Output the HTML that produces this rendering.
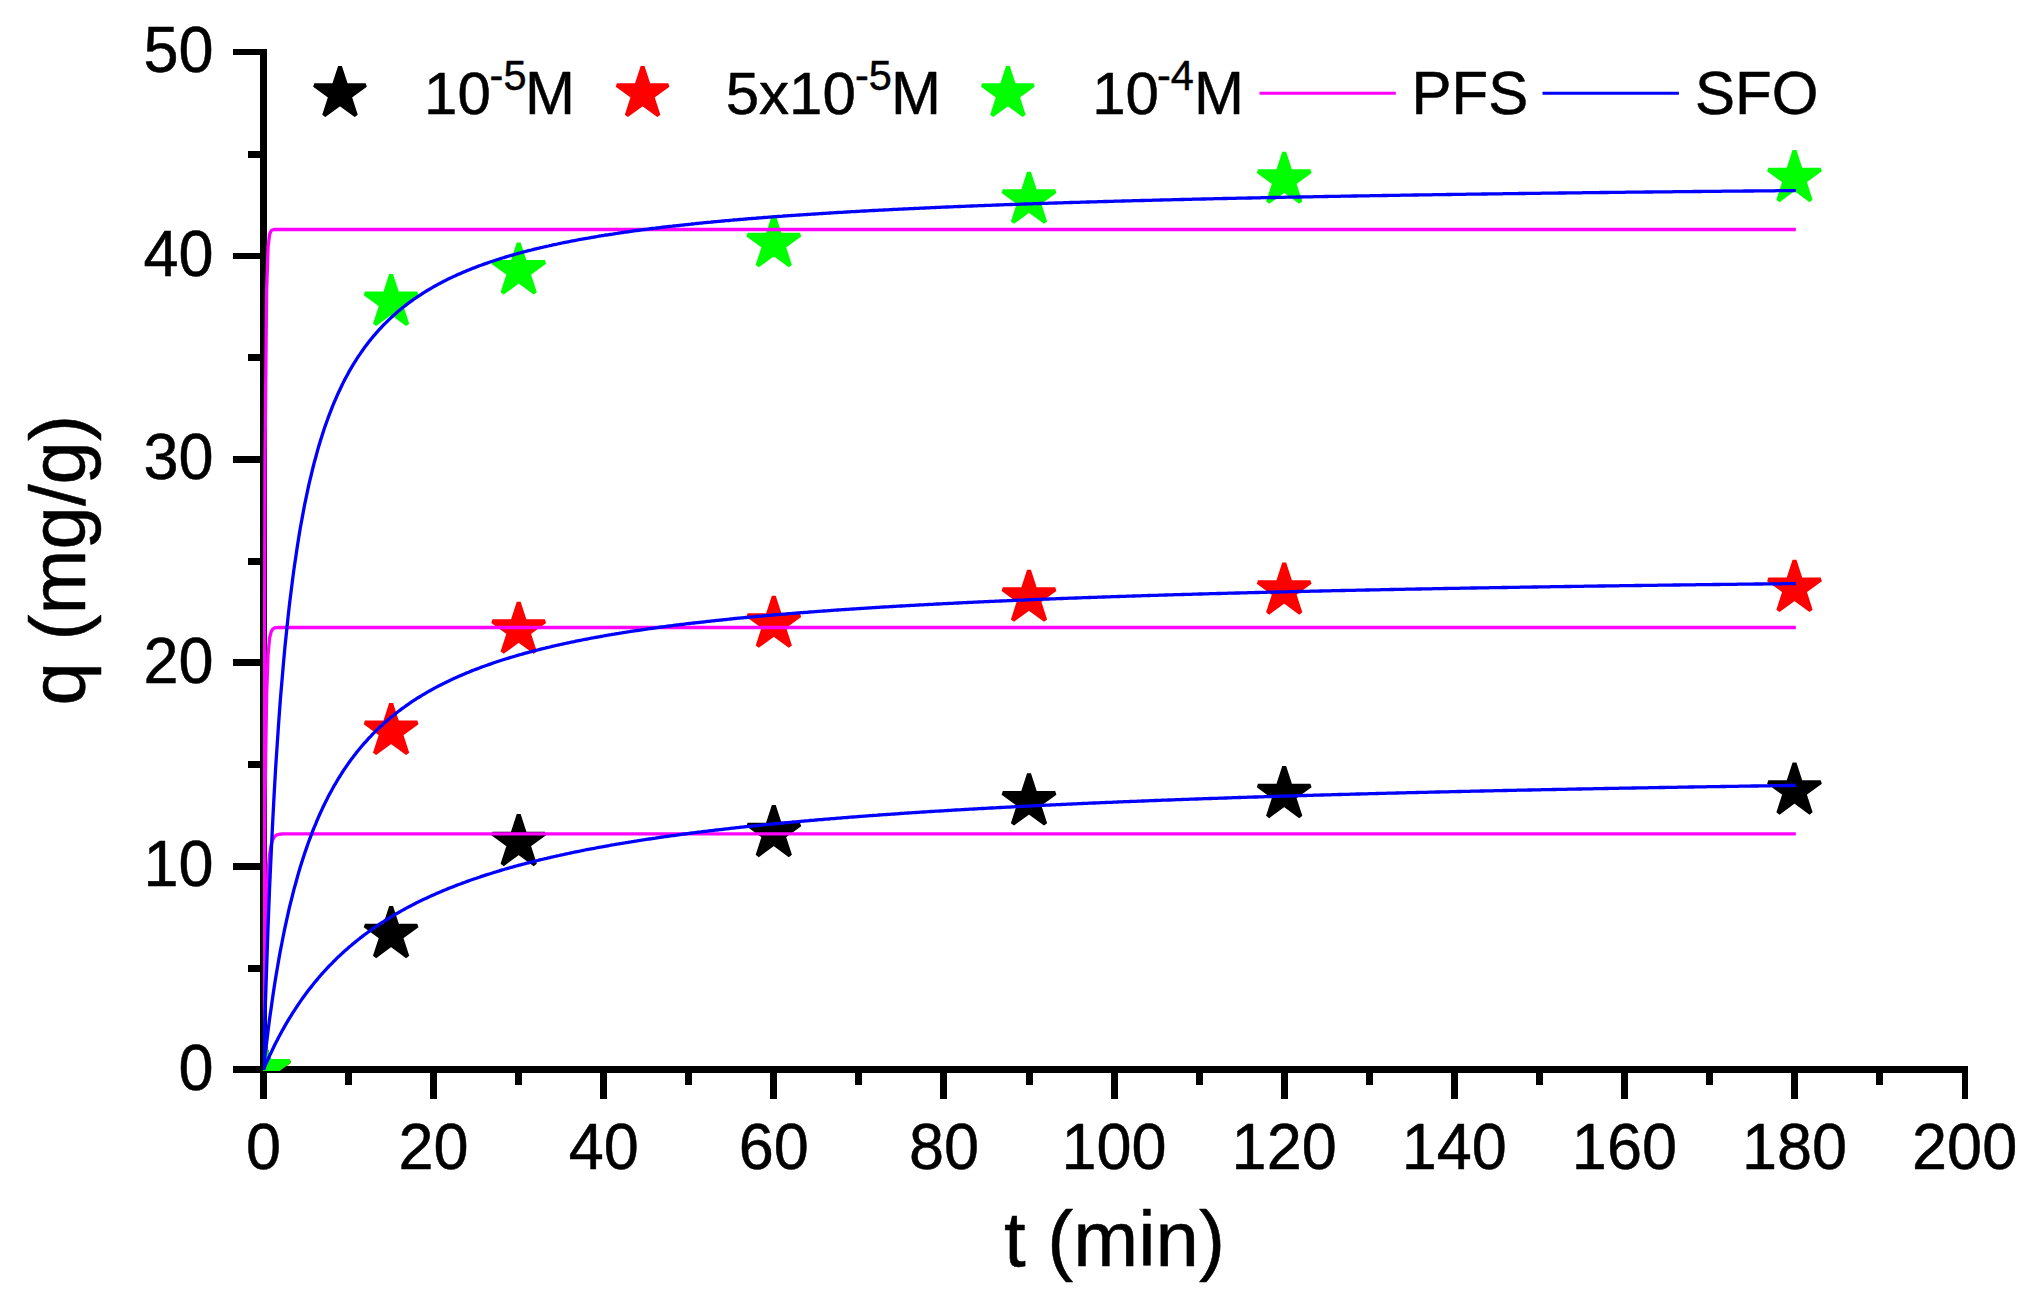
<!DOCTYPE html>
<html lang="en"><head><meta charset="utf-8"><title>q vs t</title>
<style>html,body{margin:0;padding:0;background:#fff}body{width:2027px;height:1315px;overflow:hidden}svg{display:block}text{font-family:"Liberation Sans",Arial,sans-serif;fill:#000;stroke:#000;stroke-width:0.5px;stroke-linejoin:round}</style></head><body>
<svg width="2027" height="1315" viewBox="0 0 2027 1315">
<rect width="2027" height="1315" fill="#fff"/>
<defs><clipPath id="pc"><rect x="263" y="40" width="1720" height="1031"/></clipPath>
<polygon id="st" points="0.00,-27.00 6.06,-8.34 25.68,-8.34 9.81,3.19 15.87,21.84 0.00,10.31 -15.87,21.84 -9.81,3.19 -25.68,-8.34 -6.06,-8.34" stroke-width="4" stroke-linejoin="miter" stroke-miterlimit="2"/>
<g id="sd" transform="scale(1.02)"><use href="#st"/></g>
</defs>
<g fill="#000" shape-rendering="crispEdges">
<rect x="260" y="49" width="7" height="1024"/>
<rect x="233" y="1066" width="1735" height="7"/>
<rect x="248" y="965" width="13" height="7"/>
<rect x="233" y="863" width="28" height="7"/>
<rect x="248" y="761" width="13" height="7"/>
<rect x="233" y="659" width="28" height="7"/>
<rect x="248" y="558" width="13" height="7"/>
<rect x="233" y="456" width="28" height="7"/>
<rect x="248" y="354" width="13" height="7"/>
<rect x="233" y="253" width="28" height="6"/>
<rect x="248" y="151" width="13" height="7"/>
<rect x="233" y="49" width="28" height="6"/>
<rect x="260" y="1070" width="7" height="29"/>
<rect x="345" y="1070" width="7" height="15"/>
<rect x="430" y="1070" width="7" height="29"/>
<rect x="515" y="1070" width="7" height="15"/>
<rect x="600" y="1070" width="7" height="29"/>
<rect x="685" y="1070" width="7" height="15"/>
<rect x="770" y="1070" width="7" height="29"/>
<rect x="855" y="1070" width="7" height="15"/>
<rect x="940" y="1070" width="7" height="29"/>
<rect x="1026" y="1070" width="7" height="15"/>
<rect x="1111" y="1070" width="7" height="29"/>
<rect x="1196" y="1070" width="7" height="15"/>
<rect x="1281" y="1070" width="7" height="29"/>
<rect x="1366" y="1070" width="7" height="15"/>
<rect x="1451" y="1070" width="7" height="29"/>
<rect x="1536" y="1070" width="7" height="15"/>
<rect x="1621" y="1070" width="7" height="29"/>
<rect x="1706" y="1070" width="7" height="15"/>
<rect x="1791" y="1070" width="7" height="29"/>
<rect x="1876" y="1070" width="7" height="15"/>
<rect x="1962" y="1070" width="6" height="29"/>
</g>
<text transform="translate(213.50,1089.50) scale(1,1.027)" font-size="63" text-anchor="end">0</text>
<text transform="translate(213.50,886.00) scale(1,1.027)" font-size="63" text-anchor="end">10</text>
<text transform="translate(213.50,682.50) scale(1,1.027)" font-size="63" text-anchor="end">20</text>
<text transform="translate(213.50,479.00) scale(1,1.027)" font-size="63" text-anchor="end">30</text>
<text transform="translate(213.50,275.50) scale(1,1.027)" font-size="63" text-anchor="end">40</text>
<text transform="translate(213.50,72.00) scale(1,1.027)" font-size="63" text-anchor="end">50</text>
<text transform="translate(263.50,1168.90) scale(1,1.027)" font-size="63" text-anchor="middle">0</text>
<text transform="translate(433.61,1168.90) scale(1,1.027)" font-size="63" text-anchor="middle">20</text>
<text transform="translate(603.72,1168.90) scale(1,1.027)" font-size="63" text-anchor="middle">40</text>
<text transform="translate(773.84,1168.90) scale(1,1.027)" font-size="63" text-anchor="middle">60</text>
<text transform="translate(943.95,1168.90) scale(1,1.027)" font-size="63" text-anchor="middle">80</text>
<text transform="translate(1114.06,1168.90) scale(1,1.027)" font-size="63" text-anchor="middle">100</text>
<text transform="translate(1284.17,1168.90) scale(1,1.027)" font-size="63" text-anchor="middle">120</text>
<text transform="translate(1454.28,1168.90) scale(1,1.027)" font-size="63" text-anchor="middle">140</text>
<text transform="translate(1624.40,1168.90) scale(1,1.027)" font-size="63" text-anchor="middle">160</text>
<text transform="translate(1794.51,1168.90) scale(1,1.027)" font-size="63" text-anchor="middle">180</text>
<text transform="translate(1964.62,1168.90) scale(1,1.027)" font-size="63" text-anchor="middle">200</text>
<text transform="translate(1114.40,1266.20) scale(1,1)" font-size="78" text-anchor="middle">t (min)</text>
<text transform="translate(85,560.3) rotate(-90)" font-size="78" text-anchor="middle">q (mg/g)</text>
<g clip-path="url(#pc)">
<g fill="#000" stroke="#000">
<use href="#sd" x="263.5" y="1069.5"/>
<use href="#sd" x="391.1" y="934.2"/>
<use href="#sd" x="518.7" y="842.2"/>
<use href="#sd" x="773.8" y="833.2"/>
<use href="#sd" x="1029.0" y="801.5"/>
<use href="#sd" x="1284.2" y="794.2"/>
<use href="#sd" x="1794.5" y="790.7"/>
</g>
<g fill="#f00" stroke="#f00">
<use href="#sd" x="263.5" y="1069.5"/>
<use href="#sd" x="391.1" y="731.1"/>
<use href="#sd" x="518.7" y="629.9"/>
<use href="#sd" x="773.8" y="623.8"/>
<use href="#sd" x="1029.0" y="597.8"/>
<use href="#sd" x="1284.2" y="590.7"/>
<use href="#sd" x="1794.5" y="588.0"/>
</g>
<g fill="#0f0" stroke="#0f0">
<use href="#sd" x="263.5" y="1069.5"/>
<use href="#sd" x="391.1" y="302.1"/>
<use href="#sd" x="518.7" y="270.6"/>
<use href="#sd" x="773.8" y="243.3"/>
<use href="#sd" x="1029.0" y="199.9"/>
<use href="#sd" x="1284.2" y="179.8"/>
<use href="#sd" x="1794.5" y="178.2"/>
</g>
<polyline points="263.5,1069.5 265.0,961.6 266.6,903.1 268.1,871.4 269.6,854.2 271.2,844.9 272.7,839.8 274.2,837.1 275.7,835.6 277.3,834.8 278.8,834.4 280.3,834.1 281.9,834.0 283.4,833.9 284.9,833.9 286.5,833.9 288.0,833.9 289.5,833.9 291.1,833.9 292.6,833.8 294.1,833.8 295.7,833.8 297.2,833.8 298.7,833.8 300.2,833.8 301.8,833.8 303.3,833.8 304.8,833.8 306.4,833.8 307.9,833.8 309.4,833.8 311.0,833.8 312.5,833.8 314.0,833.8 315.6,833.8 317.1,833.8 318.6,833.8 320.1,833.8 321.7,833.8 323.2,833.8 324.7,833.8 326.3,833.8 327.8,833.8 329.3,833.8 330.9,833.8 332.4,833.8 333.9,833.8 335.5,833.8 337.0,833.8 338.5,833.8 340.1,833.8 341.6,833.8 343.1,833.8 344.6,833.8 346.2,833.8 347.7,833.8 349.2,833.8 350.8,833.8 352.3,833.8 353.8,833.8 355.4,833.8 356.9,833.8 358.4,833.8 360.0,833.8 361.5,833.8 363.0,833.8 364.5,833.8 366.1,833.8 367.6,833.8 369.1,833.8 370.7,833.8 372.2,833.8 373.7,833.8 375.3,833.8 376.8,833.8 378.3,833.8 379.9,833.8 381.4,833.8 382.9,833.8 384.4,833.8 386.0,833.8 387.5,833.8 389.0,833.8 390.6,833.8 392.1,833.8 393.6,833.8 395.2,833.8 396.7,833.8 398.2,833.8 399.8,833.8 401.3,833.8 402.8,833.8 404.4,833.8 405.9,833.8 407.4,833.8 408.9,833.8 410.5,833.8 412.0,833.8 413.5,833.8 415.1,833.8 416.6,833.8 418.1,833.8 419.7,833.8 421.2,833.8 422.7,833.8 424.3,833.8 425.8,833.8 427.3,833.8 428.8,833.8 430.4,833.8 431.9,833.8 433.4,833.8 435.0,833.8 436.5,833.8 438.0,833.8 439.6,833.8 441.1,833.8 442.6,833.8 444.2,833.8 445.7,833.8 447.2,833.8 448.8,833.8 450.3,833.8 451.8,833.8 453.3,833.8 454.9,833.8 456.4,833.8 457.9,833.8 459.5,833.8 461.0,833.8 462.5,833.8 464.1,833.8 465.6,833.8 467.1,833.8 468.7,833.8 470.2,833.8 471.7,833.8 473.2,833.8 474.8,833.8 476.3,833.8 477.8,833.8 479.4,833.8 480.9,833.8 482.4,833.8 484.0,833.8 485.5,833.8 487.0,833.8 488.6,833.8 490.1,833.8 491.6,833.8 493.2,833.8 494.7,833.8 496.2,833.8 497.7,833.8 499.3,833.8 500.8,833.8 502.3,833.8 503.9,833.8 505.4,833.8 506.9,833.8 508.5,833.8 510.0,833.8 511.5,833.8 513.1,833.8 514.6,833.8 516.1,833.8 517.6,833.8 519.2,833.8 520.7,833.8 522.2,833.8 523.8,833.8 525.3,833.8 526.8,833.8 528.4,833.8 529.9,833.8 531.4,833.8 533.0,833.8 534.5,833.8 536.0,833.8 537.6,833.8 539.1,833.8 540.6,833.8 542.1,833.8 543.7,833.8 545.2,833.8 546.7,833.8 548.3,833.8 549.8,833.8 551.3,833.8 552.9,833.8 554.4,833.8 555.9,833.8 557.5,833.8 559.0,833.8 560.5,833.8 562.0,833.8 563.6,833.8 565.1,833.8 566.6,833.8 568.2,833.8 569.7,833.8 571.2,833.8 572.8,833.8 574.3,833.8 575.8,833.8 577.4,833.8 578.9,833.8 580.4,833.8 581.9,833.8 583.5,833.8 585.0,833.8 586.5,833.8 588.1,833.8 589.6,833.8 591.1,833.8 592.7,833.8 594.2,833.8 595.7,833.8 597.3,833.8 598.8,833.8 600.3,833.8 601.9,833.8 603.4,833.8 604.9,833.8 606.4,833.8 608.0,833.8 609.5,833.8 611.0,833.8 612.6,833.8 614.1,833.8 615.6,833.8 617.2,833.8 618.7,833.8 620.2,833.8 621.8,833.8 623.3,833.8 624.8,833.8 626.3,833.8 627.9,833.8 629.4,833.8 630.9,833.8 632.5,833.8 634.0,833.8 635.5,833.8 637.1,833.8 638.6,833.8 640.1,833.8 641.7,833.8 643.2,833.8 644.7,833.8 646.3,833.8 647.8,833.8 649.3,833.8 650.8,833.8 652.4,833.8 653.9,833.8 655.4,833.8 657.0,833.8 658.5,833.8 660.0,833.8 661.6,833.8 663.1,833.8 664.6,833.8 666.2,833.8 667.7,833.8 669.2,833.8 670.7,833.8 672.3,833.8 673.8,833.8 675.3,833.8 676.9,833.8 678.4,833.8 679.9,833.8 681.5,833.8 683.0,833.8 684.5,833.8 686.1,833.8 687.6,833.8 689.1,833.8 690.7,833.8 692.2,833.8 693.7,833.8 695.2,833.8 696.8,833.8 698.3,833.8 699.8,833.8 701.4,833.8 702.9,833.8 704.4,833.8 706.0,833.8 707.5,833.8 709.0,833.8 710.6,833.8 712.1,833.8 713.6,833.8 715.1,833.8 716.7,833.8 718.2,833.8 719.7,833.8 721.3,833.8 722.8,833.8 724.3,833.8 725.9,833.8 727.4,833.8 728.9,833.8 730.5,833.8 732.0,833.8 733.5,833.8 735.1,833.8 736.6,833.8 738.1,833.8 739.6,833.8 741.2,833.8 742.7,833.8 744.2,833.8 745.8,833.8 747.3,833.8 748.8,833.8 750.4,833.8 751.9,833.8 753.4,833.8 755.0,833.8 756.5,833.8 758.0,833.8 759.5,833.8 761.1,833.8 762.6,833.8 764.1,833.8 765.7,833.8 767.2,833.8 768.7,833.8 770.3,833.8 771.8,833.8 773.3,833.8 774.9,833.8 776.4,833.8 777.9,833.8 779.4,833.8 781.0,833.8 782.5,833.8 784.0,833.8 785.6,833.8 787.1,833.8 788.6,833.8 790.2,833.8 791.7,833.8 793.2,833.8 794.8,833.8 796.3,833.8 797.8,833.8 799.4,833.8 800.9,833.8 802.4,833.8 803.9,833.8 805.5,833.8 807.0,833.8 808.5,833.8 810.1,833.8 811.6,833.8 813.1,833.8 814.7,833.8 816.2,833.8 817.7,833.8 819.3,833.8 820.8,833.8 822.3,833.8 823.8,833.8 825.4,833.8 826.9,833.8 828.4,833.8 830.0,833.8 831.5,833.8 833.0,833.8 834.6,833.8 836.1,833.8 837.6,833.8 839.2,833.8 840.7,833.8 842.2,833.8 843.8,833.8 845.3,833.8 846.8,833.8 848.3,833.8 849.9,833.8 851.4,833.8 852.9,833.8 854.5,833.8 856.0,833.8 857.5,833.8 859.1,833.8 860.6,833.8 862.1,833.8 863.7,833.8 865.2,833.8 866.7,833.8 868.2,833.8 869.8,833.8 871.3,833.8 872.8,833.8 874.4,833.8 875.9,833.8 877.4,833.8 879.0,833.8 880.5,833.8 882.0,833.8 883.6,833.8 885.1,833.8 886.6,833.8 888.2,833.8 889.7,833.8 891.2,833.8 892.7,833.8 894.3,833.8 895.8,833.8 897.3,833.8 898.9,833.8 900.4,833.8 901.9,833.8 903.5,833.8 905.0,833.8 906.5,833.8 908.1,833.8 909.6,833.8 911.1,833.8 912.6,833.8 914.2,833.8 915.7,833.8 917.2,833.8 918.8,833.8 920.3,833.8 921.8,833.8 923.4,833.8 924.9,833.8 926.4,833.8 928.0,833.8 929.5,833.8 931.0,833.8 932.6,833.8 934.1,833.8 935.6,833.8 937.1,833.8 938.7,833.8 940.2,833.8 941.7,833.8 943.3,833.8 944.8,833.8 946.3,833.8 947.9,833.8 949.4,833.8 950.9,833.8 952.5,833.8 954.0,833.8 955.5,833.8 957.0,833.8 958.6,833.8 960.1,833.8 961.6,833.8 963.2,833.8 964.7,833.8 966.2,833.8 967.8,833.8 969.3,833.8 970.8,833.8 972.4,833.8 973.9,833.8 975.4,833.8 976.9,833.8 978.5,833.8 980.0,833.8 981.5,833.8 983.1,833.8 984.6,833.8 986.1,833.8 987.7,833.8 989.2,833.8 990.7,833.8 992.3,833.8 993.8,833.8 995.3,833.8 996.9,833.8 998.4,833.8 999.9,833.8 1001.4,833.8 1003.0,833.8 1004.5,833.8 1006.0,833.8 1007.6,833.8 1009.1,833.8 1010.6,833.8 1012.2,833.8 1013.7,833.8 1015.2,833.8 1016.8,833.8 1018.3,833.8 1019.8,833.8 1021.3,833.8 1022.9,833.8 1024.4,833.8 1025.9,833.8 1027.5,833.8 1029.0,833.8 1030.5,833.8 1032.1,833.8 1033.6,833.8 1035.1,833.8 1036.7,833.8 1038.2,833.8 1039.7,833.8 1041.3,833.8 1042.8,833.8 1044.3,833.8 1045.8,833.8 1047.4,833.8 1048.9,833.8 1050.4,833.8 1052.0,833.8 1053.5,833.8 1055.0,833.8 1056.6,833.8 1058.1,833.8 1059.6,833.8 1061.2,833.8 1062.7,833.8 1064.2,833.8 1065.7,833.8 1067.3,833.8 1068.8,833.8 1070.3,833.8 1071.9,833.8 1073.4,833.8 1074.9,833.8 1076.5,833.8 1078.0,833.8 1079.5,833.8 1081.1,833.8 1082.6,833.8 1084.1,833.8 1085.7,833.8 1087.2,833.8 1088.7,833.8 1090.2,833.8 1091.8,833.8 1093.3,833.8 1094.8,833.8 1096.4,833.8 1097.9,833.8 1099.4,833.8 1101.0,833.8 1102.5,833.8 1104.0,833.8 1105.6,833.8 1107.1,833.8 1108.6,833.8 1110.1,833.8 1111.7,833.8 1113.2,833.8 1114.7,833.8 1116.3,833.8 1117.8,833.8 1119.3,833.8 1120.9,833.8 1122.4,833.8 1123.9,833.8 1125.5,833.8 1127.0,833.8 1128.5,833.8 1130.1,833.8 1131.6,833.8 1133.1,833.8 1134.6,833.8 1136.2,833.8 1137.7,833.8 1139.2,833.8 1140.8,833.8 1142.3,833.8 1143.8,833.8 1145.4,833.8 1146.9,833.8 1148.4,833.8 1150.0,833.8 1151.5,833.8 1153.0,833.8 1154.5,833.8 1156.1,833.8 1157.6,833.8 1159.1,833.8 1160.7,833.8 1162.2,833.8 1163.7,833.8 1165.3,833.8 1166.8,833.8 1168.3,833.8 1169.9,833.8 1171.4,833.8 1172.9,833.8 1174.4,833.8 1176.0,833.8 1177.5,833.8 1179.0,833.8 1180.6,833.8 1182.1,833.8 1183.6,833.8 1185.2,833.8 1186.7,833.8 1188.2,833.8 1189.8,833.8 1191.3,833.8 1192.8,833.8 1194.4,833.8 1195.9,833.8 1197.4,833.8 1198.9,833.8 1200.5,833.8 1202.0,833.8 1203.5,833.8 1205.1,833.8 1206.6,833.8 1208.1,833.8 1209.7,833.8 1211.2,833.8 1212.7,833.8 1214.3,833.8 1215.8,833.8 1217.3,833.8 1218.8,833.8 1220.4,833.8 1221.9,833.8 1223.4,833.8 1225.0,833.8 1226.5,833.8 1228.0,833.8 1229.6,833.8 1231.1,833.8 1232.6,833.8 1234.2,833.8 1235.7,833.8 1237.2,833.8 1238.8,833.8 1240.3,833.8 1241.8,833.8 1243.3,833.8 1244.9,833.8 1246.4,833.8 1247.9,833.8 1249.5,833.8 1251.0,833.8 1252.5,833.8 1254.1,833.8 1255.6,833.8 1257.1,833.8 1258.7,833.8 1260.2,833.8 1261.7,833.8 1263.2,833.8 1264.8,833.8 1266.3,833.8 1267.8,833.8 1269.4,833.8 1270.9,833.8 1272.4,833.8 1274.0,833.8 1275.5,833.8 1277.0,833.8 1278.6,833.8 1280.1,833.8 1281.6,833.8 1283.2,833.8 1284.7,833.8 1286.2,833.8 1287.7,833.8 1289.3,833.8 1290.8,833.8 1292.3,833.8 1293.9,833.8 1295.4,833.8 1296.9,833.8 1298.5,833.8 1300.0,833.8 1301.5,833.8 1303.1,833.8 1304.6,833.8 1306.1,833.8 1307.6,833.8 1309.2,833.8 1310.7,833.8 1312.2,833.8 1313.8,833.8 1315.3,833.8 1316.8,833.8 1318.4,833.8 1319.9,833.8 1321.4,833.8 1323.0,833.8 1324.5,833.8 1326.0,833.8 1327.6,833.8 1329.1,833.8 1330.6,833.8 1332.1,833.8 1333.7,833.8 1335.2,833.8 1336.7,833.8 1338.3,833.8 1339.8,833.8 1341.3,833.8 1342.9,833.8 1344.4,833.8 1345.9,833.8 1347.5,833.8 1349.0,833.8 1350.5,833.8 1352.0,833.8 1353.6,833.8 1355.1,833.8 1356.6,833.8 1358.2,833.8 1359.7,833.8 1361.2,833.8 1362.8,833.8 1364.3,833.8 1365.8,833.8 1367.4,833.8 1368.9,833.8 1370.4,833.8 1371.9,833.8 1373.5,833.8 1375.0,833.8 1376.5,833.8 1378.1,833.8 1379.6,833.8 1381.1,833.8 1382.7,833.8 1384.2,833.8 1385.7,833.8 1387.3,833.8 1388.8,833.8 1390.3,833.8 1391.9,833.8 1393.4,833.8 1394.9,833.8 1396.4,833.8 1398.0,833.8 1399.5,833.8 1401.0,833.8 1402.6,833.8 1404.1,833.8 1405.6,833.8 1407.2,833.8 1408.7,833.8 1410.2,833.8 1411.8,833.8 1413.3,833.8 1414.8,833.8 1416.3,833.8 1417.9,833.8 1419.4,833.8 1420.9,833.8 1422.5,833.8 1424.0,833.8 1425.5,833.8 1427.1,833.8 1428.6,833.8 1430.1,833.8 1431.7,833.8 1433.2,833.8 1434.7,833.8 1436.3,833.8 1437.8,833.8 1439.3,833.8 1440.8,833.8 1442.4,833.8 1443.9,833.8 1445.4,833.8 1447.0,833.8 1448.5,833.8 1450.0,833.8 1451.6,833.8 1453.1,833.8 1454.6,833.8 1456.2,833.8 1457.7,833.8 1459.2,833.8 1460.7,833.8 1462.3,833.8 1463.8,833.8 1465.3,833.8 1466.9,833.8 1468.4,833.8 1469.9,833.8 1471.5,833.8 1473.0,833.8 1474.5,833.8 1476.1,833.8 1477.6,833.8 1479.1,833.8 1480.7,833.8 1482.2,833.8 1483.7,833.8 1485.2,833.8 1486.8,833.8 1488.3,833.8 1489.8,833.8 1491.4,833.8 1492.9,833.8 1494.4,833.8 1496.0,833.8 1497.5,833.8 1499.0,833.8 1500.6,833.8 1502.1,833.8 1503.6,833.8 1505.1,833.8 1506.7,833.8 1508.2,833.8 1509.7,833.8 1511.3,833.8 1512.8,833.8 1514.3,833.8 1515.9,833.8 1517.4,833.8 1518.9,833.8 1520.5,833.8 1522.0,833.8 1523.5,833.8 1525.1,833.8 1526.6,833.8 1528.1,833.8 1529.6,833.8 1531.2,833.8 1532.7,833.8 1534.2,833.8 1535.8,833.8 1537.3,833.8 1538.8,833.8 1540.4,833.8 1541.9,833.8 1543.4,833.8 1545.0,833.8 1546.5,833.8 1548.0,833.8 1549.5,833.8 1551.1,833.8 1552.6,833.8 1554.1,833.8 1555.7,833.8 1557.2,833.8 1558.7,833.8 1560.3,833.8 1561.8,833.8 1563.3,833.8 1564.9,833.8 1566.4,833.8 1567.9,833.8 1569.4,833.8 1571.0,833.8 1572.5,833.8 1574.0,833.8 1575.6,833.8 1577.1,833.8 1578.6,833.8 1580.2,833.8 1581.7,833.8 1583.2,833.8 1584.8,833.8 1586.3,833.8 1587.8,833.8 1589.4,833.8 1590.9,833.8 1592.4,833.8 1593.9,833.8 1595.5,833.8 1597.0,833.8 1598.5,833.8 1600.1,833.8 1601.6,833.8 1603.1,833.8 1604.7,833.8 1606.2,833.8 1607.7,833.8 1609.3,833.8 1610.8,833.8 1612.3,833.8 1613.8,833.8 1615.4,833.8 1616.9,833.8 1618.4,833.8 1620.0,833.8 1621.5,833.8 1623.0,833.8 1624.6,833.8 1626.1,833.8 1627.6,833.8 1629.2,833.8 1630.7,833.8 1632.2,833.8 1633.8,833.8 1635.3,833.8 1636.8,833.8 1638.3,833.8 1639.9,833.8 1641.4,833.8 1642.9,833.8 1644.5,833.8 1646.0,833.8 1647.5,833.8 1649.1,833.8 1650.6,833.8 1652.1,833.8 1653.7,833.8 1655.2,833.8 1656.7,833.8 1658.2,833.8 1659.8,833.8 1661.3,833.8 1662.8,833.8 1664.4,833.8 1665.9,833.8 1667.4,833.8 1669.0,833.8 1670.5,833.8 1672.0,833.8 1673.6,833.8 1675.1,833.8 1676.6,833.8 1678.2,833.8 1679.7,833.8 1681.2,833.8 1682.7,833.8 1684.3,833.8 1685.8,833.8 1687.3,833.8 1688.9,833.8 1690.4,833.8 1691.9,833.8 1693.5,833.8 1695.0,833.8 1696.5,833.8 1698.1,833.8 1699.6,833.8 1701.1,833.8 1702.6,833.8 1704.2,833.8 1705.7,833.8 1707.2,833.8 1708.8,833.8 1710.3,833.8 1711.8,833.8 1713.4,833.8 1714.9,833.8 1716.4,833.8 1718.0,833.8 1719.5,833.8 1721.0,833.8 1722.6,833.8 1724.1,833.8 1725.6,833.8 1727.1,833.8 1728.7,833.8 1730.2,833.8 1731.7,833.8 1733.3,833.8 1734.8,833.8 1736.3,833.8 1737.9,833.8 1739.4,833.8 1740.9,833.8 1742.5,833.8 1744.0,833.8 1745.5,833.8 1747.0,833.8 1748.6,833.8 1750.1,833.8 1751.6,833.8 1753.2,833.8 1754.7,833.8 1756.2,833.8 1757.8,833.8 1759.3,833.8 1760.8,833.8 1762.4,833.8 1763.9,833.8 1765.4,833.8 1766.9,833.8 1768.5,833.8 1770.0,833.8 1771.5,833.8 1773.1,833.8 1774.6,833.8 1776.1,833.8 1777.7,833.8 1779.2,833.8 1780.7,833.8 1782.3,833.8 1783.8,833.8 1785.3,833.8 1786.9,833.8 1788.4,833.8 1789.9,833.8 1791.4,833.8 1793.0,833.8 1794.5,833.8 1795.8,833.8" fill="none" stroke="#f0f" stroke-width="3.3" stroke-linejoin="round"/>
<polyline points="263.5,1069.5 265.0,800.8 266.6,695.5 268.1,654.2 269.6,638.0 271.2,631.6 272.7,629.1 274.2,628.1 275.7,627.7 277.3,627.6 278.8,627.5 280.3,627.5 281.9,627.5 283.4,627.5 284.9,627.5 286.5,627.5 288.0,627.5 289.5,627.5 291.1,627.5 292.6,627.5 294.1,627.5 295.7,627.5 297.2,627.5 298.7,627.5 300.2,627.5 301.8,627.5 303.3,627.5 304.8,627.5 306.4,627.5 307.9,627.5 309.4,627.5 311.0,627.5 312.5,627.5 314.0,627.5 315.6,627.5 317.1,627.5 318.6,627.5 320.1,627.5 321.7,627.5 323.2,627.5 324.7,627.5 326.3,627.5 327.8,627.5 329.3,627.5 330.9,627.5 332.4,627.5 333.9,627.5 335.5,627.5 337.0,627.5 338.5,627.5 340.1,627.5 341.6,627.5 343.1,627.5 344.6,627.5 346.2,627.5 347.7,627.5 349.2,627.5 350.8,627.5 352.3,627.5 353.8,627.5 355.4,627.5 356.9,627.5 358.4,627.5 360.0,627.5 361.5,627.5 363.0,627.5 364.5,627.5 366.1,627.5 367.6,627.5 369.1,627.5 370.7,627.5 372.2,627.5 373.7,627.5 375.3,627.5 376.8,627.5 378.3,627.5 379.9,627.5 381.4,627.5 382.9,627.5 384.4,627.5 386.0,627.5 387.5,627.5 389.0,627.5 390.6,627.5 392.1,627.5 393.6,627.5 395.2,627.5 396.7,627.5 398.2,627.5 399.8,627.5 401.3,627.5 402.8,627.5 404.4,627.5 405.9,627.5 407.4,627.5 408.9,627.5 410.5,627.5 412.0,627.5 413.5,627.5 415.1,627.5 416.6,627.5 418.1,627.5 419.7,627.5 421.2,627.5 422.7,627.5 424.3,627.5 425.8,627.5 427.3,627.5 428.8,627.5 430.4,627.5 431.9,627.5 433.4,627.5 435.0,627.5 436.5,627.5 438.0,627.5 439.6,627.5 441.1,627.5 442.6,627.5 444.2,627.5 445.7,627.5 447.2,627.5 448.8,627.5 450.3,627.5 451.8,627.5 453.3,627.5 454.9,627.5 456.4,627.5 457.9,627.5 459.5,627.5 461.0,627.5 462.5,627.5 464.1,627.5 465.6,627.5 467.1,627.5 468.7,627.5 470.2,627.5 471.7,627.5 473.2,627.5 474.8,627.5 476.3,627.5 477.8,627.5 479.4,627.5 480.9,627.5 482.4,627.5 484.0,627.5 485.5,627.5 487.0,627.5 488.6,627.5 490.1,627.5 491.6,627.5 493.2,627.5 494.7,627.5 496.2,627.5 497.7,627.5 499.3,627.5 500.8,627.5 502.3,627.5 503.9,627.5 505.4,627.5 506.9,627.5 508.5,627.5 510.0,627.5 511.5,627.5 513.1,627.5 514.6,627.5 516.1,627.5 517.6,627.5 519.2,627.5 520.7,627.5 522.2,627.5 523.8,627.5 525.3,627.5 526.8,627.5 528.4,627.5 529.9,627.5 531.4,627.5 533.0,627.5 534.5,627.5 536.0,627.5 537.6,627.5 539.1,627.5 540.6,627.5 542.1,627.5 543.7,627.5 545.2,627.5 546.7,627.5 548.3,627.5 549.8,627.5 551.3,627.5 552.9,627.5 554.4,627.5 555.9,627.5 557.5,627.5 559.0,627.5 560.5,627.5 562.0,627.5 563.6,627.5 565.1,627.5 566.6,627.5 568.2,627.5 569.7,627.5 571.2,627.5 572.8,627.5 574.3,627.5 575.8,627.5 577.4,627.5 578.9,627.5 580.4,627.5 581.9,627.5 583.5,627.5 585.0,627.5 586.5,627.5 588.1,627.5 589.6,627.5 591.1,627.5 592.7,627.5 594.2,627.5 595.7,627.5 597.3,627.5 598.8,627.5 600.3,627.5 601.9,627.5 603.4,627.5 604.9,627.5 606.4,627.5 608.0,627.5 609.5,627.5 611.0,627.5 612.6,627.5 614.1,627.5 615.6,627.5 617.2,627.5 618.7,627.5 620.2,627.5 621.8,627.5 623.3,627.5 624.8,627.5 626.3,627.5 627.9,627.5 629.4,627.5 630.9,627.5 632.5,627.5 634.0,627.5 635.5,627.5 637.1,627.5 638.6,627.5 640.1,627.5 641.7,627.5 643.2,627.5 644.7,627.5 646.3,627.5 647.8,627.5 649.3,627.5 650.8,627.5 652.4,627.5 653.9,627.5 655.4,627.5 657.0,627.5 658.5,627.5 660.0,627.5 661.6,627.5 663.1,627.5 664.6,627.5 666.2,627.5 667.7,627.5 669.2,627.5 670.7,627.5 672.3,627.5 673.8,627.5 675.3,627.5 676.9,627.5 678.4,627.5 679.9,627.5 681.5,627.5 683.0,627.5 684.5,627.5 686.1,627.5 687.6,627.5 689.1,627.5 690.7,627.5 692.2,627.5 693.7,627.5 695.2,627.5 696.8,627.5 698.3,627.5 699.8,627.5 701.4,627.5 702.9,627.5 704.4,627.5 706.0,627.5 707.5,627.5 709.0,627.5 710.6,627.5 712.1,627.5 713.6,627.5 715.1,627.5 716.7,627.5 718.2,627.5 719.7,627.5 721.3,627.5 722.8,627.5 724.3,627.5 725.9,627.5 727.4,627.5 728.9,627.5 730.5,627.5 732.0,627.5 733.5,627.5 735.1,627.5 736.6,627.5 738.1,627.5 739.6,627.5 741.2,627.5 742.7,627.5 744.2,627.5 745.8,627.5 747.3,627.5 748.8,627.5 750.4,627.5 751.9,627.5 753.4,627.5 755.0,627.5 756.5,627.5 758.0,627.5 759.5,627.5 761.1,627.5 762.6,627.5 764.1,627.5 765.7,627.5 767.2,627.5 768.7,627.5 770.3,627.5 771.8,627.5 773.3,627.5 774.9,627.5 776.4,627.5 777.9,627.5 779.4,627.5 781.0,627.5 782.5,627.5 784.0,627.5 785.6,627.5 787.1,627.5 788.6,627.5 790.2,627.5 791.7,627.5 793.2,627.5 794.8,627.5 796.3,627.5 797.8,627.5 799.4,627.5 800.9,627.5 802.4,627.5 803.9,627.5 805.5,627.5 807.0,627.5 808.5,627.5 810.1,627.5 811.6,627.5 813.1,627.5 814.7,627.5 816.2,627.5 817.7,627.5 819.3,627.5 820.8,627.5 822.3,627.5 823.8,627.5 825.4,627.5 826.9,627.5 828.4,627.5 830.0,627.5 831.5,627.5 833.0,627.5 834.6,627.5 836.1,627.5 837.6,627.5 839.2,627.5 840.7,627.5 842.2,627.5 843.8,627.5 845.3,627.5 846.8,627.5 848.3,627.5 849.9,627.5 851.4,627.5 852.9,627.5 854.5,627.5 856.0,627.5 857.5,627.5 859.1,627.5 860.6,627.5 862.1,627.5 863.7,627.5 865.2,627.5 866.7,627.5 868.2,627.5 869.8,627.5 871.3,627.5 872.8,627.5 874.4,627.5 875.9,627.5 877.4,627.5 879.0,627.5 880.5,627.5 882.0,627.5 883.6,627.5 885.1,627.5 886.6,627.5 888.2,627.5 889.7,627.5 891.2,627.5 892.7,627.5 894.3,627.5 895.8,627.5 897.3,627.5 898.9,627.5 900.4,627.5 901.9,627.5 903.5,627.5 905.0,627.5 906.5,627.5 908.1,627.5 909.6,627.5 911.1,627.5 912.6,627.5 914.2,627.5 915.7,627.5 917.2,627.5 918.8,627.5 920.3,627.5 921.8,627.5 923.4,627.5 924.9,627.5 926.4,627.5 928.0,627.5 929.5,627.5 931.0,627.5 932.6,627.5 934.1,627.5 935.6,627.5 937.1,627.5 938.7,627.5 940.2,627.5 941.7,627.5 943.3,627.5 944.8,627.5 946.3,627.5 947.9,627.5 949.4,627.5 950.9,627.5 952.5,627.5 954.0,627.5 955.5,627.5 957.0,627.5 958.6,627.5 960.1,627.5 961.6,627.5 963.2,627.5 964.7,627.5 966.2,627.5 967.8,627.5 969.3,627.5 970.8,627.5 972.4,627.5 973.9,627.5 975.4,627.5 976.9,627.5 978.5,627.5 980.0,627.5 981.5,627.5 983.1,627.5 984.6,627.5 986.1,627.5 987.7,627.5 989.2,627.5 990.7,627.5 992.3,627.5 993.8,627.5 995.3,627.5 996.9,627.5 998.4,627.5 999.9,627.5 1001.4,627.5 1003.0,627.5 1004.5,627.5 1006.0,627.5 1007.6,627.5 1009.1,627.5 1010.6,627.5 1012.2,627.5 1013.7,627.5 1015.2,627.5 1016.8,627.5 1018.3,627.5 1019.8,627.5 1021.3,627.5 1022.9,627.5 1024.4,627.5 1025.9,627.5 1027.5,627.5 1029.0,627.5 1030.5,627.5 1032.1,627.5 1033.6,627.5 1035.1,627.5 1036.7,627.5 1038.2,627.5 1039.7,627.5 1041.3,627.5 1042.8,627.5 1044.3,627.5 1045.8,627.5 1047.4,627.5 1048.9,627.5 1050.4,627.5 1052.0,627.5 1053.5,627.5 1055.0,627.5 1056.6,627.5 1058.1,627.5 1059.6,627.5 1061.2,627.5 1062.7,627.5 1064.2,627.5 1065.7,627.5 1067.3,627.5 1068.8,627.5 1070.3,627.5 1071.9,627.5 1073.4,627.5 1074.9,627.5 1076.5,627.5 1078.0,627.5 1079.5,627.5 1081.1,627.5 1082.6,627.5 1084.1,627.5 1085.7,627.5 1087.2,627.5 1088.7,627.5 1090.2,627.5 1091.8,627.5 1093.3,627.5 1094.8,627.5 1096.4,627.5 1097.9,627.5 1099.4,627.5 1101.0,627.5 1102.5,627.5 1104.0,627.5 1105.6,627.5 1107.1,627.5 1108.6,627.5 1110.1,627.5 1111.7,627.5 1113.2,627.5 1114.7,627.5 1116.3,627.5 1117.8,627.5 1119.3,627.5 1120.9,627.5 1122.4,627.5 1123.9,627.5 1125.5,627.5 1127.0,627.5 1128.5,627.5 1130.1,627.5 1131.6,627.5 1133.1,627.5 1134.6,627.5 1136.2,627.5 1137.7,627.5 1139.2,627.5 1140.8,627.5 1142.3,627.5 1143.8,627.5 1145.4,627.5 1146.9,627.5 1148.4,627.5 1150.0,627.5 1151.5,627.5 1153.0,627.5 1154.5,627.5 1156.1,627.5 1157.6,627.5 1159.1,627.5 1160.7,627.5 1162.2,627.5 1163.7,627.5 1165.3,627.5 1166.8,627.5 1168.3,627.5 1169.9,627.5 1171.4,627.5 1172.9,627.5 1174.4,627.5 1176.0,627.5 1177.5,627.5 1179.0,627.5 1180.6,627.5 1182.1,627.5 1183.6,627.5 1185.2,627.5 1186.7,627.5 1188.2,627.5 1189.8,627.5 1191.3,627.5 1192.8,627.5 1194.4,627.5 1195.9,627.5 1197.4,627.5 1198.9,627.5 1200.5,627.5 1202.0,627.5 1203.5,627.5 1205.1,627.5 1206.6,627.5 1208.1,627.5 1209.7,627.5 1211.2,627.5 1212.7,627.5 1214.3,627.5 1215.8,627.5 1217.3,627.5 1218.8,627.5 1220.4,627.5 1221.9,627.5 1223.4,627.5 1225.0,627.5 1226.5,627.5 1228.0,627.5 1229.6,627.5 1231.1,627.5 1232.6,627.5 1234.2,627.5 1235.7,627.5 1237.2,627.5 1238.8,627.5 1240.3,627.5 1241.8,627.5 1243.3,627.5 1244.9,627.5 1246.4,627.5 1247.9,627.5 1249.5,627.5 1251.0,627.5 1252.5,627.5 1254.1,627.5 1255.6,627.5 1257.1,627.5 1258.7,627.5 1260.2,627.5 1261.7,627.5 1263.2,627.5 1264.8,627.5 1266.3,627.5 1267.8,627.5 1269.4,627.5 1270.9,627.5 1272.4,627.5 1274.0,627.5 1275.5,627.5 1277.0,627.5 1278.6,627.5 1280.1,627.5 1281.6,627.5 1283.2,627.5 1284.7,627.5 1286.2,627.5 1287.7,627.5 1289.3,627.5 1290.8,627.5 1292.3,627.5 1293.9,627.5 1295.4,627.5 1296.9,627.5 1298.5,627.5 1300.0,627.5 1301.5,627.5 1303.1,627.5 1304.6,627.5 1306.1,627.5 1307.6,627.5 1309.2,627.5 1310.7,627.5 1312.2,627.5 1313.8,627.5 1315.3,627.5 1316.8,627.5 1318.4,627.5 1319.9,627.5 1321.4,627.5 1323.0,627.5 1324.5,627.5 1326.0,627.5 1327.6,627.5 1329.1,627.5 1330.6,627.5 1332.1,627.5 1333.7,627.5 1335.2,627.5 1336.7,627.5 1338.3,627.5 1339.8,627.5 1341.3,627.5 1342.9,627.5 1344.4,627.5 1345.9,627.5 1347.5,627.5 1349.0,627.5 1350.5,627.5 1352.0,627.5 1353.6,627.5 1355.1,627.5 1356.6,627.5 1358.2,627.5 1359.7,627.5 1361.2,627.5 1362.8,627.5 1364.3,627.5 1365.8,627.5 1367.4,627.5 1368.9,627.5 1370.4,627.5 1371.9,627.5 1373.5,627.5 1375.0,627.5 1376.5,627.5 1378.1,627.5 1379.6,627.5 1381.1,627.5 1382.7,627.5 1384.2,627.5 1385.7,627.5 1387.3,627.5 1388.8,627.5 1390.3,627.5 1391.9,627.5 1393.4,627.5 1394.9,627.5 1396.4,627.5 1398.0,627.5 1399.5,627.5 1401.0,627.5 1402.6,627.5 1404.1,627.5 1405.6,627.5 1407.2,627.5 1408.7,627.5 1410.2,627.5 1411.8,627.5 1413.3,627.5 1414.8,627.5 1416.3,627.5 1417.9,627.5 1419.4,627.5 1420.9,627.5 1422.5,627.5 1424.0,627.5 1425.5,627.5 1427.1,627.5 1428.6,627.5 1430.1,627.5 1431.7,627.5 1433.2,627.5 1434.7,627.5 1436.3,627.5 1437.8,627.5 1439.3,627.5 1440.8,627.5 1442.4,627.5 1443.9,627.5 1445.4,627.5 1447.0,627.5 1448.5,627.5 1450.0,627.5 1451.6,627.5 1453.1,627.5 1454.6,627.5 1456.2,627.5 1457.7,627.5 1459.2,627.5 1460.7,627.5 1462.3,627.5 1463.8,627.5 1465.3,627.5 1466.9,627.5 1468.4,627.5 1469.9,627.5 1471.5,627.5 1473.0,627.5 1474.5,627.5 1476.1,627.5 1477.6,627.5 1479.1,627.5 1480.7,627.5 1482.2,627.5 1483.7,627.5 1485.2,627.5 1486.8,627.5 1488.3,627.5 1489.8,627.5 1491.4,627.5 1492.9,627.5 1494.4,627.5 1496.0,627.5 1497.5,627.5 1499.0,627.5 1500.6,627.5 1502.1,627.5 1503.6,627.5 1505.1,627.5 1506.7,627.5 1508.2,627.5 1509.7,627.5 1511.3,627.5 1512.8,627.5 1514.3,627.5 1515.9,627.5 1517.4,627.5 1518.9,627.5 1520.5,627.5 1522.0,627.5 1523.5,627.5 1525.1,627.5 1526.6,627.5 1528.1,627.5 1529.6,627.5 1531.2,627.5 1532.7,627.5 1534.2,627.5 1535.8,627.5 1537.3,627.5 1538.8,627.5 1540.4,627.5 1541.9,627.5 1543.4,627.5 1545.0,627.5 1546.5,627.5 1548.0,627.5 1549.5,627.5 1551.1,627.5 1552.6,627.5 1554.1,627.5 1555.7,627.5 1557.2,627.5 1558.7,627.5 1560.3,627.5 1561.8,627.5 1563.3,627.5 1564.9,627.5 1566.4,627.5 1567.9,627.5 1569.4,627.5 1571.0,627.5 1572.5,627.5 1574.0,627.5 1575.6,627.5 1577.1,627.5 1578.6,627.5 1580.2,627.5 1581.7,627.5 1583.2,627.5 1584.8,627.5 1586.3,627.5 1587.8,627.5 1589.4,627.5 1590.9,627.5 1592.4,627.5 1593.9,627.5 1595.5,627.5 1597.0,627.5 1598.5,627.5 1600.1,627.5 1601.6,627.5 1603.1,627.5 1604.7,627.5 1606.2,627.5 1607.7,627.5 1609.3,627.5 1610.8,627.5 1612.3,627.5 1613.8,627.5 1615.4,627.5 1616.9,627.5 1618.4,627.5 1620.0,627.5 1621.5,627.5 1623.0,627.5 1624.6,627.5 1626.1,627.5 1627.6,627.5 1629.2,627.5 1630.7,627.5 1632.2,627.5 1633.8,627.5 1635.3,627.5 1636.8,627.5 1638.3,627.5 1639.9,627.5 1641.4,627.5 1642.9,627.5 1644.5,627.5 1646.0,627.5 1647.5,627.5 1649.1,627.5 1650.6,627.5 1652.1,627.5 1653.7,627.5 1655.2,627.5 1656.7,627.5 1658.2,627.5 1659.8,627.5 1661.3,627.5 1662.8,627.5 1664.4,627.5 1665.9,627.5 1667.4,627.5 1669.0,627.5 1670.5,627.5 1672.0,627.5 1673.6,627.5 1675.1,627.5 1676.6,627.5 1678.2,627.5 1679.7,627.5 1681.2,627.5 1682.7,627.5 1684.3,627.5 1685.8,627.5 1687.3,627.5 1688.9,627.5 1690.4,627.5 1691.9,627.5 1693.5,627.5 1695.0,627.5 1696.5,627.5 1698.1,627.5 1699.6,627.5 1701.1,627.5 1702.6,627.5 1704.2,627.5 1705.7,627.5 1707.2,627.5 1708.8,627.5 1710.3,627.5 1711.8,627.5 1713.4,627.5 1714.9,627.5 1716.4,627.5 1718.0,627.5 1719.5,627.5 1721.0,627.5 1722.6,627.5 1724.1,627.5 1725.6,627.5 1727.1,627.5 1728.7,627.5 1730.2,627.5 1731.7,627.5 1733.3,627.5 1734.8,627.5 1736.3,627.5 1737.9,627.5 1739.4,627.5 1740.9,627.5 1742.5,627.5 1744.0,627.5 1745.5,627.5 1747.0,627.5 1748.6,627.5 1750.1,627.5 1751.6,627.5 1753.2,627.5 1754.7,627.5 1756.2,627.5 1757.8,627.5 1759.3,627.5 1760.8,627.5 1762.4,627.5 1763.9,627.5 1765.4,627.5 1766.9,627.5 1768.5,627.5 1770.0,627.5 1771.5,627.5 1773.1,627.5 1774.6,627.5 1776.1,627.5 1777.7,627.5 1779.2,627.5 1780.7,627.5 1782.3,627.5 1783.8,627.5 1785.3,627.5 1786.9,627.5 1788.4,627.5 1789.9,627.5 1791.4,627.5 1793.0,627.5 1794.5,627.5 1795.8,627.5" fill="none" stroke="#f0f" stroke-width="3.3" stroke-linejoin="round"/>
<polyline points="263.5,1069.5 265.0,459.3 266.6,292.3 268.1,246.7 269.6,234.2 271.2,230.7 272.7,229.8 274.2,229.5 275.7,229.5 277.3,229.5 278.8,229.5 280.3,229.5 281.9,229.5 283.4,229.5 284.9,229.5 286.5,229.5 288.0,229.5 289.5,229.5 291.1,229.5 292.6,229.5 294.1,229.5 295.7,229.5 297.2,229.5 298.7,229.5 300.2,229.5 301.8,229.5 303.3,229.5 304.8,229.5 306.4,229.5 307.9,229.5 309.4,229.5 311.0,229.5 312.5,229.5 314.0,229.5 315.6,229.5 317.1,229.5 318.6,229.5 320.1,229.5 321.7,229.5 323.2,229.5 324.7,229.5 326.3,229.5 327.8,229.5 329.3,229.5 330.9,229.5 332.4,229.5 333.9,229.5 335.5,229.5 337.0,229.5 338.5,229.5 340.1,229.5 341.6,229.5 343.1,229.5 344.6,229.5 346.2,229.5 347.7,229.5 349.2,229.5 350.8,229.5 352.3,229.5 353.8,229.5 355.4,229.5 356.9,229.5 358.4,229.5 360.0,229.5 361.5,229.5 363.0,229.5 364.5,229.5 366.1,229.5 367.6,229.5 369.1,229.5 370.7,229.5 372.2,229.5 373.7,229.5 375.3,229.5 376.8,229.5 378.3,229.5 379.9,229.5 381.4,229.5 382.9,229.5 384.4,229.5 386.0,229.5 387.5,229.5 389.0,229.5 390.6,229.5 392.1,229.5 393.6,229.5 395.2,229.5 396.7,229.5 398.2,229.5 399.8,229.5 401.3,229.5 402.8,229.5 404.4,229.5 405.9,229.5 407.4,229.5 408.9,229.5 410.5,229.5 412.0,229.5 413.5,229.5 415.1,229.5 416.6,229.5 418.1,229.5 419.7,229.5 421.2,229.5 422.7,229.5 424.3,229.5 425.8,229.5 427.3,229.5 428.8,229.5 430.4,229.5 431.9,229.5 433.4,229.5 435.0,229.5 436.5,229.5 438.0,229.5 439.6,229.5 441.1,229.5 442.6,229.5 444.2,229.5 445.7,229.5 447.2,229.5 448.8,229.5 450.3,229.5 451.8,229.5 453.3,229.5 454.9,229.5 456.4,229.5 457.9,229.5 459.5,229.5 461.0,229.5 462.5,229.5 464.1,229.5 465.6,229.5 467.1,229.5 468.7,229.5 470.2,229.5 471.7,229.5 473.2,229.5 474.8,229.5 476.3,229.5 477.8,229.5 479.4,229.5 480.9,229.5 482.4,229.5 484.0,229.5 485.5,229.5 487.0,229.5 488.6,229.5 490.1,229.5 491.6,229.5 493.2,229.5 494.7,229.5 496.2,229.5 497.7,229.5 499.3,229.5 500.8,229.5 502.3,229.5 503.9,229.5 505.4,229.5 506.9,229.5 508.5,229.5 510.0,229.5 511.5,229.5 513.1,229.5 514.6,229.5 516.1,229.5 517.6,229.5 519.2,229.5 520.7,229.5 522.2,229.5 523.8,229.5 525.3,229.5 526.8,229.5 528.4,229.5 529.9,229.5 531.4,229.5 533.0,229.5 534.5,229.5 536.0,229.5 537.6,229.5 539.1,229.5 540.6,229.5 542.1,229.5 543.7,229.5 545.2,229.5 546.7,229.5 548.3,229.5 549.8,229.5 551.3,229.5 552.9,229.5 554.4,229.5 555.9,229.5 557.5,229.5 559.0,229.5 560.5,229.5 562.0,229.5 563.6,229.5 565.1,229.5 566.6,229.5 568.2,229.5 569.7,229.5 571.2,229.5 572.8,229.5 574.3,229.5 575.8,229.5 577.4,229.5 578.9,229.5 580.4,229.5 581.9,229.5 583.5,229.5 585.0,229.5 586.5,229.5 588.1,229.5 589.6,229.5 591.1,229.5 592.7,229.5 594.2,229.5 595.7,229.5 597.3,229.5 598.8,229.5 600.3,229.5 601.9,229.5 603.4,229.5 604.9,229.5 606.4,229.5 608.0,229.5 609.5,229.5 611.0,229.5 612.6,229.5 614.1,229.5 615.6,229.5 617.2,229.5 618.7,229.5 620.2,229.5 621.8,229.5 623.3,229.5 624.8,229.5 626.3,229.5 627.9,229.5 629.4,229.5 630.9,229.5 632.5,229.5 634.0,229.5 635.5,229.5 637.1,229.5 638.6,229.5 640.1,229.5 641.7,229.5 643.2,229.5 644.7,229.5 646.3,229.5 647.8,229.5 649.3,229.5 650.8,229.5 652.4,229.5 653.9,229.5 655.4,229.5 657.0,229.5 658.5,229.5 660.0,229.5 661.6,229.5 663.1,229.5 664.6,229.5 666.2,229.5 667.7,229.5 669.2,229.5 670.7,229.5 672.3,229.5 673.8,229.5 675.3,229.5 676.9,229.5 678.4,229.5 679.9,229.5 681.5,229.5 683.0,229.5 684.5,229.5 686.1,229.5 687.6,229.5 689.1,229.5 690.7,229.5 692.2,229.5 693.7,229.5 695.2,229.5 696.8,229.5 698.3,229.5 699.8,229.5 701.4,229.5 702.9,229.5 704.4,229.5 706.0,229.5 707.5,229.5 709.0,229.5 710.6,229.5 712.1,229.5 713.6,229.5 715.1,229.5 716.7,229.5 718.2,229.5 719.7,229.5 721.3,229.5 722.8,229.5 724.3,229.5 725.9,229.5 727.4,229.5 728.9,229.5 730.5,229.5 732.0,229.5 733.5,229.5 735.1,229.5 736.6,229.5 738.1,229.5 739.6,229.5 741.2,229.5 742.7,229.5 744.2,229.5 745.8,229.5 747.3,229.5 748.8,229.5 750.4,229.5 751.9,229.5 753.4,229.5 755.0,229.5 756.5,229.5 758.0,229.5 759.5,229.5 761.1,229.5 762.6,229.5 764.1,229.5 765.7,229.5 767.2,229.5 768.7,229.5 770.3,229.5 771.8,229.5 773.3,229.5 774.9,229.5 776.4,229.5 777.9,229.5 779.4,229.5 781.0,229.5 782.5,229.5 784.0,229.5 785.6,229.5 787.1,229.5 788.6,229.5 790.2,229.5 791.7,229.5 793.2,229.5 794.8,229.5 796.3,229.5 797.8,229.5 799.4,229.5 800.9,229.5 802.4,229.5 803.9,229.5 805.5,229.5 807.0,229.5 808.5,229.5 810.1,229.5 811.6,229.5 813.1,229.5 814.7,229.5 816.2,229.5 817.7,229.5 819.3,229.5 820.8,229.5 822.3,229.5 823.8,229.5 825.4,229.5 826.9,229.5 828.4,229.5 830.0,229.5 831.5,229.5 833.0,229.5 834.6,229.5 836.1,229.5 837.6,229.5 839.2,229.5 840.7,229.5 842.2,229.5 843.8,229.5 845.3,229.5 846.8,229.5 848.3,229.5 849.9,229.5 851.4,229.5 852.9,229.5 854.5,229.5 856.0,229.5 857.5,229.5 859.1,229.5 860.6,229.5 862.1,229.5 863.7,229.5 865.2,229.5 866.7,229.5 868.2,229.5 869.8,229.5 871.3,229.5 872.8,229.5 874.4,229.5 875.9,229.5 877.4,229.5 879.0,229.5 880.5,229.5 882.0,229.5 883.6,229.5 885.1,229.5 886.6,229.5 888.2,229.5 889.7,229.5 891.2,229.5 892.7,229.5 894.3,229.5 895.8,229.5 897.3,229.5 898.9,229.5 900.4,229.5 901.9,229.5 903.5,229.5 905.0,229.5 906.5,229.5 908.1,229.5 909.6,229.5 911.1,229.5 912.6,229.5 914.2,229.5 915.7,229.5 917.2,229.5 918.8,229.5 920.3,229.5 921.8,229.5 923.4,229.5 924.9,229.5 926.4,229.5 928.0,229.5 929.5,229.5 931.0,229.5 932.6,229.5 934.1,229.5 935.6,229.5 937.1,229.5 938.7,229.5 940.2,229.5 941.7,229.5 943.3,229.5 944.8,229.5 946.3,229.5 947.9,229.5 949.4,229.5 950.9,229.5 952.5,229.5 954.0,229.5 955.5,229.5 957.0,229.5 958.6,229.5 960.1,229.5 961.6,229.5 963.2,229.5 964.7,229.5 966.2,229.5 967.8,229.5 969.3,229.5 970.8,229.5 972.4,229.5 973.9,229.5 975.4,229.5 976.9,229.5 978.5,229.5 980.0,229.5 981.5,229.5 983.1,229.5 984.6,229.5 986.1,229.5 987.7,229.5 989.2,229.5 990.7,229.5 992.3,229.5 993.8,229.5 995.3,229.5 996.9,229.5 998.4,229.5 999.9,229.5 1001.4,229.5 1003.0,229.5 1004.5,229.5 1006.0,229.5 1007.6,229.5 1009.1,229.5 1010.6,229.5 1012.2,229.5 1013.7,229.5 1015.2,229.5 1016.8,229.5 1018.3,229.5 1019.8,229.5 1021.3,229.5 1022.9,229.5 1024.4,229.5 1025.9,229.5 1027.5,229.5 1029.0,229.5 1030.5,229.5 1032.1,229.5 1033.6,229.5 1035.1,229.5 1036.7,229.5 1038.2,229.5 1039.7,229.5 1041.3,229.5 1042.8,229.5 1044.3,229.5 1045.8,229.5 1047.4,229.5 1048.9,229.5 1050.4,229.5 1052.0,229.5 1053.5,229.5 1055.0,229.5 1056.6,229.5 1058.1,229.5 1059.6,229.5 1061.2,229.5 1062.7,229.5 1064.2,229.5 1065.7,229.5 1067.3,229.5 1068.8,229.5 1070.3,229.5 1071.9,229.5 1073.4,229.5 1074.9,229.5 1076.5,229.5 1078.0,229.5 1079.5,229.5 1081.1,229.5 1082.6,229.5 1084.1,229.5 1085.7,229.5 1087.2,229.5 1088.7,229.5 1090.2,229.5 1091.8,229.5 1093.3,229.5 1094.8,229.5 1096.4,229.5 1097.9,229.5 1099.4,229.5 1101.0,229.5 1102.5,229.5 1104.0,229.5 1105.6,229.5 1107.1,229.5 1108.6,229.5 1110.1,229.5 1111.7,229.5 1113.2,229.5 1114.7,229.5 1116.3,229.5 1117.8,229.5 1119.3,229.5 1120.9,229.5 1122.4,229.5 1123.9,229.5 1125.5,229.5 1127.0,229.5 1128.5,229.5 1130.1,229.5 1131.6,229.5 1133.1,229.5 1134.6,229.5 1136.2,229.5 1137.7,229.5 1139.2,229.5 1140.8,229.5 1142.3,229.5 1143.8,229.5 1145.4,229.5 1146.9,229.5 1148.4,229.5 1150.0,229.5 1151.5,229.5 1153.0,229.5 1154.5,229.5 1156.1,229.5 1157.6,229.5 1159.1,229.5 1160.7,229.5 1162.2,229.5 1163.7,229.5 1165.3,229.5 1166.8,229.5 1168.3,229.5 1169.9,229.5 1171.4,229.5 1172.9,229.5 1174.4,229.5 1176.0,229.5 1177.5,229.5 1179.0,229.5 1180.6,229.5 1182.1,229.5 1183.6,229.5 1185.2,229.5 1186.7,229.5 1188.2,229.5 1189.8,229.5 1191.3,229.5 1192.8,229.5 1194.4,229.5 1195.9,229.5 1197.4,229.5 1198.9,229.5 1200.5,229.5 1202.0,229.5 1203.5,229.5 1205.1,229.5 1206.6,229.5 1208.1,229.5 1209.7,229.5 1211.2,229.5 1212.7,229.5 1214.3,229.5 1215.8,229.5 1217.3,229.5 1218.8,229.5 1220.4,229.5 1221.9,229.5 1223.4,229.5 1225.0,229.5 1226.5,229.5 1228.0,229.5 1229.6,229.5 1231.1,229.5 1232.6,229.5 1234.2,229.5 1235.7,229.5 1237.2,229.5 1238.8,229.5 1240.3,229.5 1241.8,229.5 1243.3,229.5 1244.9,229.5 1246.4,229.5 1247.9,229.5 1249.5,229.5 1251.0,229.5 1252.5,229.5 1254.1,229.5 1255.6,229.5 1257.1,229.5 1258.7,229.5 1260.2,229.5 1261.7,229.5 1263.2,229.5 1264.8,229.5 1266.3,229.5 1267.8,229.5 1269.4,229.5 1270.9,229.5 1272.4,229.5 1274.0,229.5 1275.5,229.5 1277.0,229.5 1278.6,229.5 1280.1,229.5 1281.6,229.5 1283.2,229.5 1284.7,229.5 1286.2,229.5 1287.7,229.5 1289.3,229.5 1290.8,229.5 1292.3,229.5 1293.9,229.5 1295.4,229.5 1296.9,229.5 1298.5,229.5 1300.0,229.5 1301.5,229.5 1303.1,229.5 1304.6,229.5 1306.1,229.5 1307.6,229.5 1309.2,229.5 1310.7,229.5 1312.2,229.5 1313.8,229.5 1315.3,229.5 1316.8,229.5 1318.4,229.5 1319.9,229.5 1321.4,229.5 1323.0,229.5 1324.5,229.5 1326.0,229.5 1327.6,229.5 1329.1,229.5 1330.6,229.5 1332.1,229.5 1333.7,229.5 1335.2,229.5 1336.7,229.5 1338.3,229.5 1339.8,229.5 1341.3,229.5 1342.9,229.5 1344.4,229.5 1345.9,229.5 1347.5,229.5 1349.0,229.5 1350.5,229.5 1352.0,229.5 1353.6,229.5 1355.1,229.5 1356.6,229.5 1358.2,229.5 1359.7,229.5 1361.2,229.5 1362.8,229.5 1364.3,229.5 1365.8,229.5 1367.4,229.5 1368.9,229.5 1370.4,229.5 1371.9,229.5 1373.5,229.5 1375.0,229.5 1376.5,229.5 1378.1,229.5 1379.6,229.5 1381.1,229.5 1382.7,229.5 1384.2,229.5 1385.7,229.5 1387.3,229.5 1388.8,229.5 1390.3,229.5 1391.9,229.5 1393.4,229.5 1394.9,229.5 1396.4,229.5 1398.0,229.5 1399.5,229.5 1401.0,229.5 1402.6,229.5 1404.1,229.5 1405.6,229.5 1407.2,229.5 1408.7,229.5 1410.2,229.5 1411.8,229.5 1413.3,229.5 1414.8,229.5 1416.3,229.5 1417.9,229.5 1419.4,229.5 1420.9,229.5 1422.5,229.5 1424.0,229.5 1425.5,229.5 1427.1,229.5 1428.6,229.5 1430.1,229.5 1431.7,229.5 1433.2,229.5 1434.7,229.5 1436.3,229.5 1437.8,229.5 1439.3,229.5 1440.8,229.5 1442.4,229.5 1443.9,229.5 1445.4,229.5 1447.0,229.5 1448.5,229.5 1450.0,229.5 1451.6,229.5 1453.1,229.5 1454.6,229.5 1456.2,229.5 1457.7,229.5 1459.2,229.5 1460.7,229.5 1462.3,229.5 1463.8,229.5 1465.3,229.5 1466.9,229.5 1468.4,229.5 1469.9,229.5 1471.5,229.5 1473.0,229.5 1474.5,229.5 1476.1,229.5 1477.6,229.5 1479.1,229.5 1480.7,229.5 1482.2,229.5 1483.7,229.5 1485.2,229.5 1486.8,229.5 1488.3,229.5 1489.8,229.5 1491.4,229.5 1492.9,229.5 1494.4,229.5 1496.0,229.5 1497.5,229.5 1499.0,229.5 1500.6,229.5 1502.1,229.5 1503.6,229.5 1505.1,229.5 1506.7,229.5 1508.2,229.5 1509.7,229.5 1511.3,229.5 1512.8,229.5 1514.3,229.5 1515.9,229.5 1517.4,229.5 1518.9,229.5 1520.5,229.5 1522.0,229.5 1523.5,229.5 1525.1,229.5 1526.6,229.5 1528.1,229.5 1529.6,229.5 1531.2,229.5 1532.7,229.5 1534.2,229.5 1535.8,229.5 1537.3,229.5 1538.8,229.5 1540.4,229.5 1541.9,229.5 1543.4,229.5 1545.0,229.5 1546.5,229.5 1548.0,229.5 1549.5,229.5 1551.1,229.5 1552.6,229.5 1554.1,229.5 1555.7,229.5 1557.2,229.5 1558.7,229.5 1560.3,229.5 1561.8,229.5 1563.3,229.5 1564.9,229.5 1566.4,229.5 1567.9,229.5 1569.4,229.5 1571.0,229.5 1572.5,229.5 1574.0,229.5 1575.6,229.5 1577.1,229.5 1578.6,229.5 1580.2,229.5 1581.7,229.5 1583.2,229.5 1584.8,229.5 1586.3,229.5 1587.8,229.5 1589.4,229.5 1590.9,229.5 1592.4,229.5 1593.9,229.5 1595.5,229.5 1597.0,229.5 1598.5,229.5 1600.1,229.5 1601.6,229.5 1603.1,229.5 1604.7,229.5 1606.2,229.5 1607.7,229.5 1609.3,229.5 1610.8,229.5 1612.3,229.5 1613.8,229.5 1615.4,229.5 1616.9,229.5 1618.4,229.5 1620.0,229.5 1621.5,229.5 1623.0,229.5 1624.6,229.5 1626.1,229.5 1627.6,229.5 1629.2,229.5 1630.7,229.5 1632.2,229.5 1633.8,229.5 1635.3,229.5 1636.8,229.5 1638.3,229.5 1639.9,229.5 1641.4,229.5 1642.9,229.5 1644.5,229.5 1646.0,229.5 1647.5,229.5 1649.1,229.5 1650.6,229.5 1652.1,229.5 1653.7,229.5 1655.2,229.5 1656.7,229.5 1658.2,229.5 1659.8,229.5 1661.3,229.5 1662.8,229.5 1664.4,229.5 1665.9,229.5 1667.4,229.5 1669.0,229.5 1670.5,229.5 1672.0,229.5 1673.6,229.5 1675.1,229.5 1676.6,229.5 1678.2,229.5 1679.7,229.5 1681.2,229.5 1682.7,229.5 1684.3,229.5 1685.8,229.5 1687.3,229.5 1688.9,229.5 1690.4,229.5 1691.9,229.5 1693.5,229.5 1695.0,229.5 1696.5,229.5 1698.1,229.5 1699.6,229.5 1701.1,229.5 1702.6,229.5 1704.2,229.5 1705.7,229.5 1707.2,229.5 1708.8,229.5 1710.3,229.5 1711.8,229.5 1713.4,229.5 1714.9,229.5 1716.4,229.5 1718.0,229.5 1719.5,229.5 1721.0,229.5 1722.6,229.5 1724.1,229.5 1725.6,229.5 1727.1,229.5 1728.7,229.5 1730.2,229.5 1731.7,229.5 1733.3,229.5 1734.8,229.5 1736.3,229.5 1737.9,229.5 1739.4,229.5 1740.9,229.5 1742.5,229.5 1744.0,229.5 1745.5,229.5 1747.0,229.5 1748.6,229.5 1750.1,229.5 1751.6,229.5 1753.2,229.5 1754.7,229.5 1756.2,229.5 1757.8,229.5 1759.3,229.5 1760.8,229.5 1762.4,229.5 1763.9,229.5 1765.4,229.5 1766.9,229.5 1768.5,229.5 1770.0,229.5 1771.5,229.5 1773.1,229.5 1774.6,229.5 1776.1,229.5 1777.7,229.5 1779.2,229.5 1780.7,229.5 1782.3,229.5 1783.8,229.5 1785.3,229.5 1786.9,229.5 1788.4,229.5 1789.9,229.5 1791.4,229.5 1793.0,229.5 1794.5,229.5 1795.8,229.5" fill="none" stroke="#f0f" stroke-width="3.3" stroke-linejoin="round"/>
<polyline points="263.5,1069.5 265.0,1065.9 266.6,1062.4 268.1,1059.0 269.6,1055.6 271.2,1052.4 272.7,1049.2 274.2,1046.0 275.7,1043.0 277.3,1040.0 278.8,1037.0 280.3,1034.2 281.9,1031.3 283.4,1028.6 284.9,1025.9 286.5,1023.2 288.0,1020.6 289.5,1018.1 291.1,1015.6 292.6,1013.2 294.1,1010.8 295.7,1008.4 297.2,1006.1 298.7,1003.8 300.2,1001.6 301.8,999.4 303.3,997.3 304.8,995.2 306.4,993.1 307.9,991.1 309.4,989.1 311.0,987.1 312.5,985.2 314.0,983.3 315.6,981.4 317.1,979.6 318.6,977.8 320.1,976.0 321.7,974.2 323.2,972.5 324.7,970.8 326.3,969.2 327.8,967.5 329.3,965.9 330.9,964.3 332.4,962.8 333.9,961.2 335.5,959.7 337.0,958.2 338.5,956.7 340.1,955.3 341.6,953.9 343.1,952.5 344.6,951.1 346.2,949.7 347.7,948.4 349.2,947.0 350.8,945.7 352.3,944.4 353.8,943.2 355.4,941.9 356.9,940.7 358.4,939.5 360.0,938.2 361.5,937.1 363.0,935.9 364.5,934.7 366.1,933.6 367.6,932.5 369.1,931.4 370.7,930.3 372.2,929.2 373.7,928.1 375.3,927.0 376.8,926.0 378.3,925.0 379.9,924.0 381.4,922.9 382.9,922.0 384.4,921.0 386.0,920.0 387.5,919.1 389.0,918.1 390.6,917.2 392.1,916.3 393.6,915.3 395.2,914.4 396.7,913.5 398.2,912.7 399.8,911.8 401.3,910.9 402.8,910.1 404.4,909.2 405.9,908.4 407.4,907.6 408.9,906.8 410.5,906.0 412.0,905.2 413.5,904.4 415.1,903.6 416.6,902.8 418.1,902.1 419.7,901.3 421.2,900.6 422.7,899.8 424.3,899.1 425.8,898.4 427.3,897.7 428.8,897.0 430.4,896.3 431.9,895.6 433.4,894.9 435.0,894.2 436.5,893.5 438.0,892.9 439.6,892.2 441.1,891.6 442.6,890.9 444.2,890.3 445.7,889.7 447.2,889.0 448.8,888.4 450.3,887.8 451.8,887.2 453.3,886.6 454.9,886.0 456.4,885.4 457.9,884.8 459.5,884.2 461.0,883.7 462.5,883.1 464.1,882.5 465.6,882.0 467.1,881.4 468.7,880.9 470.2,880.3 471.7,879.8 473.2,879.2 474.8,878.7 476.3,878.2 477.8,877.7 479.4,877.2 480.9,876.6 482.4,876.1 484.0,875.6 485.5,875.1 487.0,874.6 488.6,874.2 490.1,873.7 491.6,873.2 493.2,872.7 494.7,872.2 496.2,871.8 497.7,871.3 499.3,870.9 500.8,870.4 502.3,869.9 503.9,869.5 505.4,869.0 506.9,868.6 508.5,868.2 510.0,867.7 511.5,867.3 513.1,866.9 514.6,866.4 516.1,866.0 517.6,865.6 519.2,865.2 520.7,864.8 522.2,864.4 523.8,864.0 525.3,863.6 526.8,863.2 528.4,862.8 529.9,862.4 531.4,862.0 533.0,861.6 534.5,861.2 536.0,860.9 537.6,860.5 539.1,860.1 540.6,859.7 542.1,859.4 543.7,859.0 545.2,858.6 546.7,858.3 548.3,857.9 549.8,857.6 551.3,857.2 552.9,856.9 554.4,856.5 555.9,856.2 557.5,855.8 559.0,855.5 560.5,855.1 562.0,854.8 563.6,854.5 565.1,854.1 566.6,853.8 568.2,853.5 569.7,853.2 571.2,852.8 572.8,852.5 574.3,852.2 575.8,851.9 577.4,851.6 578.9,851.3 580.4,851.0 581.9,850.7 583.5,850.3 585.0,850.0 586.5,849.7 588.1,849.4 589.6,849.2 591.1,848.9 592.7,848.6 594.2,848.3 595.7,848.0 597.3,847.7 598.8,847.4 600.3,847.1 601.9,846.9 603.4,846.6 604.9,846.3 606.4,846.0 608.0,845.8 609.5,845.5 611.0,845.2 612.6,844.9 614.1,844.7 615.6,844.4 617.2,844.1 618.7,843.9 620.2,843.6 621.8,843.4 623.3,843.1 624.8,842.9 626.3,842.6 627.9,842.4 629.4,842.1 630.9,841.9 632.5,841.6 634.0,841.4 635.5,841.1 637.1,840.9 638.6,840.6 640.1,840.4 641.7,840.2 643.2,839.9 644.7,839.7 646.3,839.4 647.8,839.2 649.3,839.0 650.8,838.8 652.4,838.5 653.9,838.3 655.4,838.1 657.0,837.8 658.5,837.6 660.0,837.4 661.6,837.2 663.1,837.0 664.6,836.7 666.2,836.5 667.7,836.3 669.2,836.1 670.7,835.9 672.3,835.7 673.8,835.5 675.3,835.3 676.9,835.0 678.4,834.8 679.9,834.6 681.5,834.4 683.0,834.2 684.5,834.0 686.1,833.8 687.6,833.6 689.1,833.4 690.7,833.2 692.2,833.0 693.7,832.8 695.2,832.6 696.8,832.4 698.3,832.2 699.8,832.1 701.4,831.9 702.9,831.7 704.4,831.5 706.0,831.3 707.5,831.1 709.0,830.9 710.6,830.7 712.1,830.6 713.6,830.4 715.1,830.2 716.7,830.0 718.2,829.8 719.7,829.6 721.3,829.5 722.8,829.3 724.3,829.1 725.9,828.9 727.4,828.8 728.9,828.6 730.5,828.4 732.0,828.2 733.5,828.1 735.1,827.9 736.6,827.7 738.1,827.6 739.6,827.4 741.2,827.2 742.7,827.1 744.2,826.9 745.8,826.7 747.3,826.6 748.8,826.4 750.4,826.3 751.9,826.1 753.4,825.9 755.0,825.8 756.5,825.6 758.0,825.5 759.5,825.3 761.1,825.1 762.6,825.0 764.1,824.8 765.7,824.7 767.2,824.5 768.7,824.4 770.3,824.2 771.8,824.1 773.3,823.9 774.9,823.8 776.4,823.6 777.9,823.5 779.4,823.3 781.0,823.2 782.5,823.0 784.0,822.9 785.6,822.7 787.1,822.6 788.6,822.5 790.2,822.3 791.7,822.2 793.2,822.0 794.8,821.9 796.3,821.8 797.8,821.6 799.4,821.5 800.9,821.3 802.4,821.2 803.9,821.1 805.5,820.9 807.0,820.8 808.5,820.7 810.1,820.5 811.6,820.4 813.1,820.3 814.7,820.1 816.2,820.0 817.7,819.9 819.3,819.7 820.8,819.6 822.3,819.5 823.8,819.3 825.4,819.2 826.9,819.1 828.4,819.0 830.0,818.8 831.5,818.7 833.0,818.6 834.6,818.5 836.1,818.3 837.6,818.2 839.2,818.1 840.7,818.0 842.2,817.8 843.8,817.7 845.3,817.6 846.8,817.5 848.3,817.3 849.9,817.2 851.4,817.1 852.9,817.0 854.5,816.9 856.0,816.8 857.5,816.6 859.1,816.5 860.6,816.4 862.1,816.3 863.7,816.2 865.2,816.1 866.7,815.9 868.2,815.8 869.8,815.7 871.3,815.6 872.8,815.5 874.4,815.4 875.9,815.3 877.4,815.2 879.0,815.0 880.5,814.9 882.0,814.8 883.6,814.7 885.1,814.6 886.6,814.5 888.2,814.4 889.7,814.3 891.2,814.2 892.7,814.1 894.3,814.0 895.8,813.9 897.3,813.8 898.9,813.6 900.4,813.5 901.9,813.4 903.5,813.3 905.0,813.2 906.5,813.1 908.1,813.0 909.6,812.9 911.1,812.8 912.6,812.7 914.2,812.6 915.7,812.5 917.2,812.4 918.8,812.3 920.3,812.2 921.8,812.1 923.4,812.0 924.9,811.9 926.4,811.8 928.0,811.7 929.5,811.6 931.0,811.5 932.6,811.4 934.1,811.3 935.6,811.2 937.1,811.2 938.7,811.1 940.2,811.0 941.7,810.9 943.3,810.8 944.8,810.7 946.3,810.6 947.9,810.5 949.4,810.4 950.9,810.3 952.5,810.2 954.0,810.1 955.5,810.0 957.0,809.9 958.6,809.9 960.1,809.8 961.6,809.7 963.2,809.6 964.7,809.5 966.2,809.4 967.8,809.3 969.3,809.2 970.8,809.1 972.4,809.1 973.9,809.0 975.4,808.9 976.9,808.8 978.5,808.7 980.0,808.6 981.5,808.5 983.1,808.5 984.6,808.4 986.1,808.3 987.7,808.2 989.2,808.1 990.7,808.0 992.3,808.0 993.8,807.9 995.3,807.8 996.9,807.7 998.4,807.6 999.9,807.5 1001.4,807.5 1003.0,807.4 1004.5,807.3 1006.0,807.2 1007.6,807.1 1009.1,807.1 1010.6,807.0 1012.2,806.9 1013.7,806.8 1015.2,806.7 1016.8,806.7 1018.3,806.6 1019.8,806.5 1021.3,806.4 1022.9,806.3 1024.4,806.3 1025.9,806.2 1027.5,806.1 1029.0,806.0 1030.5,806.0 1032.1,805.9 1033.6,805.8 1035.1,805.7 1036.7,805.7 1038.2,805.6 1039.7,805.5 1041.3,805.4 1042.8,805.4 1044.3,805.3 1045.8,805.2 1047.4,805.1 1048.9,805.1 1050.4,805.0 1052.0,804.9 1053.5,804.8 1055.0,804.8 1056.6,804.7 1058.1,804.6 1059.6,804.6 1061.2,804.5 1062.7,804.4 1064.2,804.3 1065.7,804.3 1067.3,804.2 1068.8,804.1 1070.3,804.1 1071.9,804.0 1073.4,803.9 1074.9,803.9 1076.5,803.8 1078.0,803.7 1079.5,803.6 1081.1,803.6 1082.6,803.5 1084.1,803.4 1085.7,803.4 1087.2,803.3 1088.7,803.2 1090.2,803.2 1091.8,803.1 1093.3,803.0 1094.8,803.0 1096.4,802.9 1097.9,802.8 1099.4,802.8 1101.0,802.7 1102.5,802.6 1104.0,802.6 1105.6,802.5 1107.1,802.4 1108.6,802.4 1110.1,802.3 1111.7,802.3 1113.2,802.2 1114.7,802.1 1116.3,802.1 1117.8,802.0 1119.3,801.9 1120.9,801.9 1122.4,801.8 1123.9,801.7 1125.5,801.7 1127.0,801.6 1128.5,801.6 1130.1,801.5 1131.6,801.4 1133.1,801.4 1134.6,801.3 1136.2,801.3 1137.7,801.2 1139.2,801.1 1140.8,801.1 1142.3,801.0 1143.8,801.0 1145.4,800.9 1146.9,800.8 1148.4,800.8 1150.0,800.7 1151.5,800.7 1153.0,800.6 1154.5,800.5 1156.1,800.5 1157.6,800.4 1159.1,800.4 1160.7,800.3 1162.2,800.2 1163.7,800.2 1165.3,800.1 1166.8,800.1 1168.3,800.0 1169.9,800.0 1171.4,799.9 1172.9,799.8 1174.4,799.8 1176.0,799.7 1177.5,799.7 1179.0,799.6 1180.6,799.6 1182.1,799.5 1183.6,799.4 1185.2,799.4 1186.7,799.3 1188.2,799.3 1189.8,799.2 1191.3,799.2 1192.8,799.1 1194.4,799.1 1195.9,799.0 1197.4,799.0 1198.9,798.9 1200.5,798.8 1202.0,798.8 1203.5,798.7 1205.1,798.7 1206.6,798.6 1208.1,798.6 1209.7,798.5 1211.2,798.5 1212.7,798.4 1214.3,798.4 1215.8,798.3 1217.3,798.3 1218.8,798.2 1220.4,798.2 1221.9,798.1 1223.4,798.1 1225.0,798.0 1226.5,798.0 1228.0,797.9 1229.6,797.8 1231.1,797.8 1232.6,797.7 1234.2,797.7 1235.7,797.6 1237.2,797.6 1238.8,797.5 1240.3,797.5 1241.8,797.4 1243.3,797.4 1244.9,797.3 1246.4,797.3 1247.9,797.2 1249.5,797.2 1251.0,797.1 1252.5,797.1 1254.1,797.0 1255.6,797.0 1257.1,797.0 1258.7,796.9 1260.2,796.9 1261.7,796.8 1263.2,796.8 1264.8,796.7 1266.3,796.7 1267.8,796.6 1269.4,796.6 1270.9,796.5 1272.4,796.5 1274.0,796.4 1275.5,796.4 1277.0,796.3 1278.6,796.3 1280.1,796.2 1281.6,796.2 1283.2,796.1 1284.7,796.1 1286.2,796.1 1287.7,796.0 1289.3,796.0 1290.8,795.9 1292.3,795.9 1293.9,795.8 1295.4,795.8 1296.9,795.7 1298.5,795.7 1300.0,795.6 1301.5,795.6 1303.1,795.6 1304.6,795.5 1306.1,795.5 1307.6,795.4 1309.2,795.4 1310.7,795.3 1312.2,795.3 1313.8,795.2 1315.3,795.2 1316.8,795.2 1318.4,795.1 1319.9,795.1 1321.4,795.0 1323.0,795.0 1324.5,794.9 1326.0,794.9 1327.6,794.8 1329.1,794.8 1330.6,794.8 1332.1,794.7 1333.7,794.7 1335.2,794.6 1336.7,794.6 1338.3,794.5 1339.8,794.5 1341.3,794.5 1342.9,794.4 1344.4,794.4 1345.9,794.3 1347.5,794.3 1349.0,794.3 1350.5,794.2 1352.0,794.2 1353.6,794.1 1355.1,794.1 1356.6,794.0 1358.2,794.0 1359.7,794.0 1361.2,793.9 1362.8,793.9 1364.3,793.8 1365.8,793.8 1367.4,793.8 1368.9,793.7 1370.4,793.7 1371.9,793.6 1373.5,793.6 1375.0,793.6 1376.5,793.5 1378.1,793.5 1379.6,793.4 1381.1,793.4 1382.7,793.4 1384.2,793.3 1385.7,793.3 1387.3,793.2 1388.8,793.2 1390.3,793.2 1391.9,793.1 1393.4,793.1 1394.9,793.1 1396.4,793.0 1398.0,793.0 1399.5,792.9 1401.0,792.9 1402.6,792.9 1404.1,792.8 1405.6,792.8 1407.2,792.7 1408.7,792.7 1410.2,792.7 1411.8,792.6 1413.3,792.6 1414.8,792.6 1416.3,792.5 1417.9,792.5 1419.4,792.4 1420.9,792.4 1422.5,792.4 1424.0,792.3 1425.5,792.3 1427.1,792.3 1428.6,792.2 1430.1,792.2 1431.7,792.2 1433.2,792.1 1434.7,792.1 1436.3,792.0 1437.8,792.0 1439.3,792.0 1440.8,791.9 1442.4,791.9 1443.9,791.9 1445.4,791.8 1447.0,791.8 1448.5,791.8 1450.0,791.7 1451.6,791.7 1453.1,791.7 1454.6,791.6 1456.2,791.6 1457.7,791.5 1459.2,791.5 1460.7,791.5 1462.3,791.4 1463.8,791.4 1465.3,791.4 1466.9,791.3 1468.4,791.3 1469.9,791.3 1471.5,791.2 1473.0,791.2 1474.5,791.2 1476.1,791.1 1477.6,791.1 1479.1,791.1 1480.7,791.0 1482.2,791.0 1483.7,791.0 1485.2,790.9 1486.8,790.9 1488.3,790.9 1489.8,790.8 1491.4,790.8 1492.9,790.8 1494.4,790.7 1496.0,790.7 1497.5,790.7 1499.0,790.6 1500.6,790.6 1502.1,790.6 1503.6,790.5 1505.1,790.5 1506.7,790.5 1508.2,790.4 1509.7,790.4 1511.3,790.4 1512.8,790.3 1514.3,790.3 1515.9,790.3 1517.4,790.2 1518.9,790.2 1520.5,790.2 1522.0,790.1 1523.5,790.1 1525.1,790.1 1526.6,790.1 1528.1,790.0 1529.6,790.0 1531.2,790.0 1532.7,789.9 1534.2,789.9 1535.8,789.9 1537.3,789.8 1538.8,789.8 1540.4,789.8 1541.9,789.7 1543.4,789.7 1545.0,789.7 1546.5,789.6 1548.0,789.6 1549.5,789.6 1551.1,789.6 1552.6,789.5 1554.1,789.5 1555.7,789.5 1557.2,789.4 1558.7,789.4 1560.3,789.4 1561.8,789.3 1563.3,789.3 1564.9,789.3 1566.4,789.3 1567.9,789.2 1569.4,789.2 1571.0,789.2 1572.5,789.1 1574.0,789.1 1575.6,789.1 1577.1,789.0 1578.6,789.0 1580.2,789.0 1581.7,789.0 1583.2,788.9 1584.8,788.9 1586.3,788.9 1587.8,788.8 1589.4,788.8 1590.9,788.8 1592.4,788.8 1593.9,788.7 1595.5,788.7 1597.0,788.7 1598.5,788.6 1600.1,788.6 1601.6,788.6 1603.1,788.6 1604.7,788.5 1606.2,788.5 1607.7,788.5 1609.3,788.4 1610.8,788.4 1612.3,788.4 1613.8,788.4 1615.4,788.3 1616.9,788.3 1618.4,788.3 1620.0,788.2 1621.5,788.2 1623.0,788.2 1624.6,788.2 1626.1,788.1 1627.6,788.1 1629.2,788.1 1630.7,788.1 1632.2,788.0 1633.8,788.0 1635.3,788.0 1636.8,787.9 1638.3,787.9 1639.9,787.9 1641.4,787.9 1642.9,787.8 1644.5,787.8 1646.0,787.8 1647.5,787.8 1649.1,787.7 1650.6,787.7 1652.1,787.7 1653.7,787.6 1655.2,787.6 1656.7,787.6 1658.2,787.6 1659.8,787.5 1661.3,787.5 1662.8,787.5 1664.4,787.5 1665.9,787.4 1667.4,787.4 1669.0,787.4 1670.5,787.4 1672.0,787.3 1673.6,787.3 1675.1,787.3 1676.6,787.3 1678.2,787.2 1679.7,787.2 1681.2,787.2 1682.7,787.2 1684.3,787.1 1685.8,787.1 1687.3,787.1 1688.9,787.0 1690.4,787.0 1691.9,787.0 1693.5,787.0 1695.0,786.9 1696.5,786.9 1698.1,786.9 1699.6,786.9 1701.1,786.8 1702.6,786.8 1704.2,786.8 1705.7,786.8 1707.2,786.7 1708.8,786.7 1710.3,786.7 1711.8,786.7 1713.4,786.7 1714.9,786.6 1716.4,786.6 1718.0,786.6 1719.5,786.6 1721.0,786.5 1722.6,786.5 1724.1,786.5 1725.6,786.5 1727.1,786.4 1728.7,786.4 1730.2,786.4 1731.7,786.4 1733.3,786.3 1734.8,786.3 1736.3,786.3 1737.9,786.3 1739.4,786.2 1740.9,786.2 1742.5,786.2 1744.0,786.2 1745.5,786.1 1747.0,786.1 1748.6,786.1 1750.1,786.1 1751.6,786.0 1753.2,786.0 1754.7,786.0 1756.2,786.0 1757.8,786.0 1759.3,785.9 1760.8,785.9 1762.4,785.9 1763.9,785.9 1765.4,785.8 1766.9,785.8 1768.5,785.8 1770.0,785.8 1771.5,785.7 1773.1,785.7 1774.6,785.7 1776.1,785.7 1777.7,785.7 1779.2,785.6 1780.7,785.6 1782.3,785.6 1783.8,785.6 1785.3,785.5 1786.9,785.5 1788.4,785.5 1789.9,785.5 1791.4,785.5 1793.0,785.4 1794.5,785.4 1795.8,785.4" fill="none" stroke="#00f" stroke-width="3.3" stroke-linejoin="round"/>
<polyline points="263.5,1069.5 265.0,1055.8 266.6,1042.8 268.1,1030.5 269.6,1018.8 271.2,1007.7 272.7,997.1 274.2,987.0 275.7,977.4 277.3,968.2 278.8,959.4 280.3,951.0 281.9,943.0 283.4,935.2 284.9,927.8 286.5,920.7 288.0,913.8 289.5,907.2 291.1,900.9 292.6,894.8 294.1,888.9 295.7,883.2 297.2,877.7 298.7,872.4 300.2,867.3 301.8,862.3 303.3,857.5 304.8,852.9 306.4,848.4 307.9,844.0 309.4,839.8 311.0,835.7 312.5,831.7 314.0,827.8 315.6,824.1 317.1,820.4 318.6,816.9 320.1,813.5 321.7,810.1 323.2,806.8 324.7,803.7 326.3,800.6 327.8,797.5 329.3,794.6 330.9,791.7 332.4,789.0 333.9,786.2 335.5,783.6 337.0,781.0 338.5,778.4 340.1,776.0 341.6,773.5 343.1,771.2 344.6,768.9 346.2,766.6 347.7,764.4 349.2,762.2 350.8,760.1 352.3,758.1 353.8,756.0 355.4,754.1 356.9,752.1 358.4,750.2 360.0,748.3 361.5,746.5 363.0,744.7 364.5,743.0 366.1,741.3 367.6,739.6 369.1,737.9 370.7,736.3 372.2,734.7 373.7,733.1 375.3,731.6 376.8,730.1 378.3,728.6 379.9,727.2 381.4,725.7 382.9,724.3 384.4,722.9 386.0,721.6 387.5,720.3 389.0,719.0 390.6,717.7 392.1,716.4 393.6,715.2 395.2,713.9 396.7,712.7 398.2,711.5 399.8,710.4 401.3,709.2 402.8,708.1 404.4,707.0 405.9,705.9 407.4,704.8 408.9,703.8 410.5,702.7 412.0,701.7 413.5,700.7 415.1,699.7 416.6,698.7 418.1,697.7 419.7,696.8 421.2,695.8 422.7,694.9 424.3,694.0 425.8,693.1 427.3,692.2 428.8,691.3 430.4,690.5 431.9,689.6 433.4,688.8 435.0,687.9 436.5,687.1 438.0,686.3 439.6,685.5 441.1,684.7 442.6,684.0 444.2,683.2 445.7,682.4 447.2,681.7 448.8,681.0 450.3,680.2 451.8,679.5 453.3,678.8 454.9,678.1 456.4,677.4 457.9,676.7 459.5,676.0 461.0,675.4 462.5,674.7 464.1,674.1 465.6,673.4 467.1,672.8 468.7,672.2 470.2,671.5 471.7,670.9 473.2,670.3 474.8,669.7 476.3,669.1 477.8,668.6 479.4,668.0 480.9,667.4 482.4,666.8 484.0,666.3 485.5,665.7 487.0,665.2 488.6,664.6 490.1,664.1 491.6,663.6 493.2,663.0 494.7,662.5 496.2,662.0 497.7,661.5 499.3,661.0 500.8,660.5 502.3,660.0 503.9,659.5 505.4,659.0 506.9,658.6 508.5,658.1 510.0,657.6 511.5,657.2 513.1,656.7 514.6,656.3 516.1,655.8 517.6,655.4 519.2,654.9 520.7,654.5 522.2,654.1 523.8,653.6 525.3,653.2 526.8,652.8 528.4,652.4 529.9,652.0 531.4,651.6 533.0,651.2 534.5,650.8 536.0,650.4 537.6,650.0 539.1,649.6 540.6,649.2 542.1,648.8 543.7,648.4 545.2,648.1 546.7,647.7 548.3,647.3 549.8,647.0 551.3,646.6 552.9,646.2 554.4,645.9 555.9,645.5 557.5,645.2 559.0,644.8 560.5,644.5 562.0,644.2 563.6,643.8 565.1,643.5 566.6,643.2 568.2,642.8 569.7,642.5 571.2,642.2 572.8,641.9 574.3,641.6 575.8,641.2 577.4,640.9 578.9,640.6 580.4,640.3 581.9,640.0 583.5,639.7 585.0,639.4 586.5,639.1 588.1,638.8 589.6,638.5 591.1,638.2 592.7,637.9 594.2,637.7 595.7,637.4 597.3,637.1 598.8,636.8 600.3,636.5 601.9,636.3 603.4,636.0 604.9,635.7 606.4,635.5 608.0,635.2 609.5,634.9 611.0,634.7 612.6,634.4 614.1,634.2 615.6,633.9 617.2,633.6 618.7,633.4 620.2,633.1 621.8,632.9 623.3,632.6 624.8,632.4 626.3,632.2 627.9,631.9 629.4,631.7 630.9,631.4 632.5,631.2 634.0,631.0 635.5,630.7 637.1,630.5 638.6,630.3 640.1,630.1 641.7,629.8 643.2,629.6 644.7,629.4 646.3,629.2 647.8,628.9 649.3,628.7 650.8,628.5 652.4,628.3 653.9,628.1 655.4,627.9 657.0,627.7 658.5,627.4 660.0,627.2 661.6,627.0 663.1,626.8 664.6,626.6 666.2,626.4 667.7,626.2 669.2,626.0 670.7,625.8 672.3,625.6 673.8,625.4 675.3,625.2 676.9,625.0 678.4,624.9 679.9,624.7 681.5,624.5 683.0,624.3 684.5,624.1 686.1,623.9 687.6,623.7 689.1,623.5 690.7,623.4 692.2,623.2 693.7,623.0 695.2,622.8 696.8,622.6 698.3,622.5 699.8,622.3 701.4,622.1 702.9,622.0 704.4,621.8 706.0,621.6 707.5,621.4 709.0,621.3 710.6,621.1 712.1,620.9 713.6,620.8 715.1,620.6 716.7,620.4 718.2,620.3 719.7,620.1 721.3,620.0 722.8,619.8 724.3,619.6 725.9,619.5 727.4,619.3 728.9,619.2 730.5,619.0 732.0,618.9 733.5,618.7 735.1,618.5 736.6,618.4 738.1,618.2 739.6,618.1 741.2,617.9 742.7,617.8 744.2,617.6 745.8,617.5 747.3,617.4 748.8,617.2 750.4,617.1 751.9,616.9 753.4,616.8 755.0,616.6 756.5,616.5 758.0,616.4 759.5,616.2 761.1,616.1 762.6,615.9 764.1,615.8 765.7,615.7 767.2,615.5 768.7,615.4 770.3,615.3 771.8,615.1 773.3,615.0 774.9,614.9 776.4,614.7 777.9,614.6 779.4,614.5 781.0,614.3 782.5,614.2 784.0,614.1 785.6,614.0 787.1,613.8 788.6,613.7 790.2,613.6 791.7,613.5 793.2,613.3 794.8,613.2 796.3,613.1 797.8,613.0 799.4,612.9 800.9,612.7 802.4,612.6 803.9,612.5 805.5,612.4 807.0,612.3 808.5,612.1 810.1,612.0 811.6,611.9 813.1,611.8 814.7,611.7 816.2,611.6 817.7,611.4 819.3,611.3 820.8,611.2 822.3,611.1 823.8,611.0 825.4,610.9 826.9,610.8 828.4,610.7 830.0,610.6 831.5,610.4 833.0,610.3 834.6,610.2 836.1,610.1 837.6,610.0 839.2,609.9 840.7,609.8 842.2,609.7 843.8,609.6 845.3,609.5 846.8,609.4 848.3,609.3 849.9,609.2 851.4,609.1 852.9,609.0 854.5,608.9 856.0,608.8 857.5,608.7 859.1,608.6 860.6,608.5 862.1,608.4 863.7,608.3 865.2,608.2 866.7,608.1 868.2,608.0 869.8,607.9 871.3,607.8 872.8,607.7 874.4,607.6 875.9,607.5 877.4,607.4 879.0,607.3 880.5,607.2 882.0,607.1 883.6,607.0 885.1,606.9 886.6,606.9 888.2,606.8 889.7,606.7 891.2,606.6 892.7,606.5 894.3,606.4 895.8,606.3 897.3,606.2 898.9,606.1 900.4,606.0 901.9,606.0 903.5,605.9 905.0,605.8 906.5,605.7 908.1,605.6 909.6,605.5 911.1,605.4 912.6,605.3 914.2,605.3 915.7,605.2 917.2,605.1 918.8,605.0 920.3,604.9 921.8,604.8 923.4,604.8 924.9,604.7 926.4,604.6 928.0,604.5 929.5,604.4 931.0,604.4 932.6,604.3 934.1,604.2 935.6,604.1 937.1,604.0 938.7,604.0 940.2,603.9 941.7,603.8 943.3,603.7 944.8,603.6 946.3,603.6 947.9,603.5 949.4,603.4 950.9,603.3 952.5,603.3 954.0,603.2 955.5,603.1 957.0,603.0 958.6,603.0 960.1,602.9 961.6,602.8 963.2,602.7 964.7,602.7 966.2,602.6 967.8,602.5 969.3,602.4 970.8,602.4 972.4,602.3 973.9,602.2 975.4,602.1 976.9,602.1 978.5,602.0 980.0,601.9 981.5,601.9 983.1,601.8 984.6,601.7 986.1,601.7 987.7,601.6 989.2,601.5 990.7,601.4 992.3,601.4 993.8,601.3 995.3,601.2 996.9,601.2 998.4,601.1 999.9,601.0 1001.4,601.0 1003.0,600.9 1004.5,600.8 1006.0,600.8 1007.6,600.7 1009.1,600.6 1010.6,600.6 1012.2,600.5 1013.7,600.4 1015.2,600.4 1016.8,600.3 1018.3,600.2 1019.8,600.2 1021.3,600.1 1022.9,600.1 1024.4,600.0 1025.9,599.9 1027.5,599.9 1029.0,599.8 1030.5,599.7 1032.1,599.7 1033.6,599.6 1035.1,599.6 1036.7,599.5 1038.2,599.4 1039.7,599.4 1041.3,599.3 1042.8,599.2 1044.3,599.2 1045.8,599.1 1047.4,599.1 1048.9,599.0 1050.4,598.9 1052.0,598.9 1053.5,598.8 1055.0,598.8 1056.6,598.7 1058.1,598.7 1059.6,598.6 1061.2,598.5 1062.7,598.5 1064.2,598.4 1065.7,598.4 1067.3,598.3 1068.8,598.2 1070.3,598.2 1071.9,598.1 1073.4,598.1 1074.9,598.0 1076.5,598.0 1078.0,597.9 1079.5,597.9 1081.1,597.8 1082.6,597.7 1084.1,597.7 1085.7,597.6 1087.2,597.6 1088.7,597.5 1090.2,597.5 1091.8,597.4 1093.3,597.4 1094.8,597.3 1096.4,597.3 1097.9,597.2 1099.4,597.1 1101.0,597.1 1102.5,597.0 1104.0,597.0 1105.6,596.9 1107.1,596.9 1108.6,596.8 1110.1,596.8 1111.7,596.7 1113.2,596.7 1114.7,596.6 1116.3,596.6 1117.8,596.5 1119.3,596.5 1120.9,596.4 1122.4,596.4 1123.9,596.3 1125.5,596.3 1127.0,596.2 1128.5,596.2 1130.1,596.1 1131.6,596.1 1133.1,596.0 1134.6,596.0 1136.2,595.9 1137.7,595.9 1139.2,595.8 1140.8,595.8 1142.3,595.7 1143.8,595.7 1145.4,595.6 1146.9,595.6 1148.4,595.5 1150.0,595.5 1151.5,595.4 1153.0,595.4 1154.5,595.3 1156.1,595.3 1157.6,595.3 1159.1,595.2 1160.7,595.2 1162.2,595.1 1163.7,595.1 1165.3,595.0 1166.8,595.0 1168.3,594.9 1169.9,594.9 1171.4,594.8 1172.9,594.8 1174.4,594.7 1176.0,594.7 1177.5,594.7 1179.0,594.6 1180.6,594.6 1182.1,594.5 1183.6,594.5 1185.2,594.4 1186.7,594.4 1188.2,594.3 1189.8,594.3 1191.3,594.3 1192.8,594.2 1194.4,594.2 1195.9,594.1 1197.4,594.1 1198.9,594.0 1200.5,594.0 1202.0,594.0 1203.5,593.9 1205.1,593.9 1206.6,593.8 1208.1,593.8 1209.7,593.7 1211.2,593.7 1212.7,593.7 1214.3,593.6 1215.8,593.6 1217.3,593.5 1218.8,593.5 1220.4,593.5 1221.9,593.4 1223.4,593.4 1225.0,593.3 1226.5,593.3 1228.0,593.2 1229.6,593.2 1231.1,593.2 1232.6,593.1 1234.2,593.1 1235.7,593.0 1237.2,593.0 1238.8,593.0 1240.3,592.9 1241.8,592.9 1243.3,592.8 1244.9,592.8 1246.4,592.8 1247.9,592.7 1249.5,592.7 1251.0,592.7 1252.5,592.6 1254.1,592.6 1255.6,592.5 1257.1,592.5 1258.7,592.5 1260.2,592.4 1261.7,592.4 1263.2,592.3 1264.8,592.3 1266.3,592.3 1267.8,592.2 1269.4,592.2 1270.9,592.2 1272.4,592.1 1274.0,592.1 1275.5,592.0 1277.0,592.0 1278.6,592.0 1280.1,591.9 1281.6,591.9 1283.2,591.9 1284.7,591.8 1286.2,591.8 1287.7,591.8 1289.3,591.7 1290.8,591.7 1292.3,591.6 1293.9,591.6 1295.4,591.6 1296.9,591.5 1298.5,591.5 1300.0,591.5 1301.5,591.4 1303.1,591.4 1304.6,591.4 1306.1,591.3 1307.6,591.3 1309.2,591.3 1310.7,591.2 1312.2,591.2 1313.8,591.2 1315.3,591.1 1316.8,591.1 1318.4,591.1 1319.9,591.0 1321.4,591.0 1323.0,590.9 1324.5,590.9 1326.0,590.9 1327.6,590.8 1329.1,590.8 1330.6,590.8 1332.1,590.7 1333.7,590.7 1335.2,590.7 1336.7,590.6 1338.3,590.6 1339.8,590.6 1341.3,590.5 1342.9,590.5 1344.4,590.5 1345.9,590.4 1347.5,590.4 1349.0,590.4 1350.5,590.4 1352.0,590.3 1353.6,590.3 1355.1,590.3 1356.6,590.2 1358.2,590.2 1359.7,590.2 1361.2,590.1 1362.8,590.1 1364.3,590.1 1365.8,590.0 1367.4,590.0 1368.9,590.0 1370.4,589.9 1371.9,589.9 1373.5,589.9 1375.0,589.8 1376.5,589.8 1378.1,589.8 1379.6,589.8 1381.1,589.7 1382.7,589.7 1384.2,589.7 1385.7,589.6 1387.3,589.6 1388.8,589.6 1390.3,589.5 1391.9,589.5 1393.4,589.5 1394.9,589.4 1396.4,589.4 1398.0,589.4 1399.5,589.4 1401.0,589.3 1402.6,589.3 1404.1,589.3 1405.6,589.2 1407.2,589.2 1408.7,589.2 1410.2,589.2 1411.8,589.1 1413.3,589.1 1414.8,589.1 1416.3,589.0 1417.9,589.0 1419.4,589.0 1420.9,589.0 1422.5,588.9 1424.0,588.9 1425.5,588.9 1427.1,588.8 1428.6,588.8 1430.1,588.8 1431.7,588.8 1433.2,588.7 1434.7,588.7 1436.3,588.7 1437.8,588.6 1439.3,588.6 1440.8,588.6 1442.4,588.6 1443.9,588.5 1445.4,588.5 1447.0,588.5 1448.5,588.4 1450.0,588.4 1451.6,588.4 1453.1,588.4 1454.6,588.3 1456.2,588.3 1457.7,588.3 1459.2,588.3 1460.7,588.2 1462.3,588.2 1463.8,588.2 1465.3,588.1 1466.9,588.1 1468.4,588.1 1469.9,588.1 1471.5,588.0 1473.0,588.0 1474.5,588.0 1476.1,588.0 1477.6,587.9 1479.1,587.9 1480.7,587.9 1482.2,587.9 1483.7,587.8 1485.2,587.8 1486.8,587.8 1488.3,587.8 1489.8,587.7 1491.4,587.7 1492.9,587.7 1494.4,587.7 1496.0,587.6 1497.5,587.6 1499.0,587.6 1500.6,587.6 1502.1,587.5 1503.6,587.5 1505.1,587.5 1506.7,587.5 1508.2,587.4 1509.7,587.4 1511.3,587.4 1512.8,587.4 1514.3,587.3 1515.9,587.3 1517.4,587.3 1518.9,587.3 1520.5,587.2 1522.0,587.2 1523.5,587.2 1525.1,587.2 1526.6,587.1 1528.1,587.1 1529.6,587.1 1531.2,587.1 1532.7,587.0 1534.2,587.0 1535.8,587.0 1537.3,587.0 1538.8,586.9 1540.4,586.9 1541.9,586.9 1543.4,586.9 1545.0,586.8 1546.5,586.8 1548.0,586.8 1549.5,586.8 1551.1,586.7 1552.6,586.7 1554.1,586.7 1555.7,586.7 1557.2,586.7 1558.7,586.6 1560.3,586.6 1561.8,586.6 1563.3,586.6 1564.9,586.5 1566.4,586.5 1567.9,586.5 1569.4,586.5 1571.0,586.5 1572.5,586.4 1574.0,586.4 1575.6,586.4 1577.1,586.4 1578.6,586.3 1580.2,586.3 1581.7,586.3 1583.2,586.3 1584.8,586.2 1586.3,586.2 1587.8,586.2 1589.4,586.2 1590.9,586.2 1592.4,586.1 1593.9,586.1 1595.5,586.1 1597.0,586.1 1598.5,586.0 1600.1,586.0 1601.6,586.0 1603.1,586.0 1604.7,586.0 1606.2,585.9 1607.7,585.9 1609.3,585.9 1610.8,585.9 1612.3,585.9 1613.8,585.8 1615.4,585.8 1616.9,585.8 1618.4,585.8 1620.0,585.7 1621.5,585.7 1623.0,585.7 1624.6,585.7 1626.1,585.7 1627.6,585.6 1629.2,585.6 1630.7,585.6 1632.2,585.6 1633.8,585.6 1635.3,585.5 1636.8,585.5 1638.3,585.5 1639.9,585.5 1641.4,585.5 1642.9,585.4 1644.5,585.4 1646.0,585.4 1647.5,585.4 1649.1,585.4 1650.6,585.3 1652.1,585.3 1653.7,585.3 1655.2,585.3 1656.7,585.3 1658.2,585.2 1659.8,585.2 1661.3,585.2 1662.8,585.2 1664.4,585.2 1665.9,585.1 1667.4,585.1 1669.0,585.1 1670.5,585.1 1672.0,585.1 1673.6,585.0 1675.1,585.0 1676.6,585.0 1678.2,585.0 1679.7,585.0 1681.2,584.9 1682.7,584.9 1684.3,584.9 1685.8,584.9 1687.3,584.9 1688.9,584.8 1690.4,584.8 1691.9,584.8 1693.5,584.8 1695.0,584.8 1696.5,584.7 1698.1,584.7 1699.6,584.7 1701.1,584.7 1702.6,584.7 1704.2,584.7 1705.7,584.6 1707.2,584.6 1708.8,584.6 1710.3,584.6 1711.8,584.6 1713.4,584.5 1714.9,584.5 1716.4,584.5 1718.0,584.5 1719.5,584.5 1721.0,584.4 1722.6,584.4 1724.1,584.4 1725.6,584.4 1727.1,584.4 1728.7,584.4 1730.2,584.3 1731.7,584.3 1733.3,584.3 1734.8,584.3 1736.3,584.3 1737.9,584.2 1739.4,584.2 1740.9,584.2 1742.5,584.2 1744.0,584.2 1745.5,584.2 1747.0,584.1 1748.6,584.1 1750.1,584.1 1751.6,584.1 1753.2,584.1 1754.7,584.0 1756.2,584.0 1757.8,584.0 1759.3,584.0 1760.8,584.0 1762.4,584.0 1763.9,583.9 1765.4,583.9 1766.9,583.9 1768.5,583.9 1770.0,583.9 1771.5,583.9 1773.1,583.8 1774.6,583.8 1776.1,583.8 1777.7,583.8 1779.2,583.8 1780.7,583.8 1782.3,583.7 1783.8,583.7 1785.3,583.7 1786.9,583.7 1788.4,583.7 1789.9,583.7 1791.4,583.6 1793.0,583.6 1794.5,583.6 1795.8,583.6" fill="none" stroke="#00f" stroke-width="3.3" stroke-linejoin="round"/>
<polyline points="263.5,1069.5 265.0,1015.7 266.6,968.1 268.1,925.6 269.6,887.4 271.2,852.9 272.7,821.6 274.2,793.1 275.7,767.0 277.3,743.0 278.8,720.9 280.3,700.4 281.9,681.5 283.4,663.8 284.9,647.4 286.5,632.0 288.0,617.6 289.5,604.1 291.1,591.4 292.6,579.4 294.1,568.1 295.7,557.4 297.2,547.3 298.7,537.7 300.2,528.6 301.8,519.9 303.3,511.7 304.8,503.8 306.4,496.3 307.9,489.2 309.4,482.3 311.0,475.8 312.5,469.5 314.0,463.5 315.6,457.7 317.1,452.1 318.6,446.8 320.1,441.7 321.7,436.7 323.2,432.0 324.7,427.4 326.3,423.0 327.8,418.7 329.3,414.6 330.9,410.6 332.4,406.7 333.9,403.0 335.5,399.4 337.0,395.9 338.5,392.5 340.1,389.2 341.6,386.0 343.1,382.9 344.6,379.9 346.2,377.0 347.7,374.2 349.2,371.4 350.8,368.7 352.3,366.1 353.8,363.6 355.4,361.1 356.9,358.7 358.4,356.4 360.0,354.1 361.5,351.9 363.0,349.7 364.5,347.6 366.1,345.5 367.6,343.5 369.1,341.5 370.7,339.6 372.2,337.7 373.7,335.9 375.3,334.1 376.8,332.3 378.3,330.6 379.9,328.9 381.4,327.3 382.9,325.7 384.4,324.1 386.0,322.6 387.5,321.1 389.0,319.6 390.6,318.1 392.1,316.7 393.6,315.3 395.2,314.0 396.7,312.6 398.2,311.3 399.8,310.0 401.3,308.8 402.8,307.5 404.4,306.3 405.9,305.1 407.4,304.0 408.9,302.8 410.5,301.7 412.0,300.6 413.5,299.5 415.1,298.4 416.6,297.4 418.1,296.3 419.7,295.3 421.2,294.3 422.7,293.3 424.3,292.4 425.8,291.4 427.3,290.5 428.8,289.6 430.4,288.7 431.9,287.8 433.4,286.9 435.0,286.0 436.5,285.2 438.0,284.3 439.6,283.5 441.1,282.7 442.6,281.9 444.2,281.1 445.7,280.4 447.2,279.6 448.8,278.8 450.3,278.1 451.8,277.4 453.3,276.6 454.9,275.9 456.4,275.2 457.9,274.5 459.5,273.9 461.0,273.2 462.5,272.5 464.1,271.9 465.6,271.2 467.1,270.6 468.7,270.0 470.2,269.4 471.7,268.8 473.2,268.1 474.8,267.6 476.3,267.0 477.8,266.4 479.4,265.8 480.9,265.3 482.4,264.7 484.0,264.1 485.5,263.6 487.0,263.1 488.6,262.5 490.1,262.0 491.6,261.5 493.2,261.0 494.7,260.5 496.2,260.0 497.7,259.5 499.3,259.0 500.8,258.5 502.3,258.0 503.9,257.6 505.4,257.1 506.9,256.6 508.5,256.2 510.0,255.7 511.5,255.3 513.1,254.9 514.6,254.4 516.1,254.0 517.6,253.6 519.2,253.2 520.7,252.7 522.2,252.3 523.8,251.9 525.3,251.5 526.8,251.1 528.4,250.7 529.9,250.3 531.4,250.0 533.0,249.6 534.5,249.2 536.0,248.8 537.6,248.4 539.1,248.1 540.6,247.7 542.1,247.4 543.7,247.0 545.2,246.7 546.7,246.3 548.3,246.0 549.8,245.6 551.3,245.3 552.9,244.9 554.4,244.6 555.9,244.3 557.5,244.0 559.0,243.6 560.5,243.3 562.0,243.0 563.6,242.7 565.1,242.4 566.6,242.1 568.2,241.8 569.7,241.5 571.2,241.2 572.8,240.9 574.3,240.6 575.8,240.3 577.4,240.0 578.9,239.7 580.4,239.4 581.9,239.2 583.5,238.9 585.0,238.6 586.5,238.3 588.1,238.1 589.6,237.8 591.1,237.5 592.7,237.3 594.2,237.0 595.7,236.8 597.3,236.5 598.8,236.2 600.3,236.0 601.9,235.7 603.4,235.5 604.9,235.2 606.4,235.0 608.0,234.8 609.5,234.5 611.0,234.3 612.6,234.1 614.1,233.8 615.6,233.6 617.2,233.4 618.7,233.1 620.2,232.9 621.8,232.7 623.3,232.5 624.8,232.2 626.3,232.0 627.9,231.8 629.4,231.6 630.9,231.4 632.5,231.2 634.0,230.9 635.5,230.7 637.1,230.5 638.6,230.3 640.1,230.1 641.7,229.9 643.2,229.7 644.7,229.5 646.3,229.3 647.8,229.1 649.3,228.9 650.8,228.7 652.4,228.5 653.9,228.3 655.4,228.2 657.0,228.0 658.5,227.8 660.0,227.6 661.6,227.4 663.1,227.2 664.6,227.0 666.2,226.9 667.7,226.7 669.2,226.5 670.7,226.3 672.3,226.2 673.8,226.0 675.3,225.8 676.9,225.6 678.4,225.5 679.9,225.3 681.5,225.1 683.0,225.0 684.5,224.8 686.1,224.6 687.6,224.5 689.1,224.3 690.7,224.2 692.2,224.0 693.7,223.8 695.2,223.7 696.8,223.5 698.3,223.4 699.8,223.2 701.4,223.1 702.9,222.9 704.4,222.7 706.0,222.6 707.5,222.4 709.0,222.3 710.6,222.2 712.1,222.0 713.6,221.9 715.1,221.7 716.7,221.6 718.2,221.4 719.7,221.3 721.3,221.1 722.8,221.0 724.3,220.9 725.9,220.7 727.4,220.6 728.9,220.5 730.5,220.3 732.0,220.2 733.5,220.0 735.1,219.9 736.6,219.8 738.1,219.6 739.6,219.5 741.2,219.4 742.7,219.3 744.2,219.1 745.8,219.0 747.3,218.9 748.8,218.7 750.4,218.6 751.9,218.5 753.4,218.4 755.0,218.3 756.5,218.1 758.0,218.0 759.5,217.9 761.1,217.8 762.6,217.6 764.1,217.5 765.7,217.4 767.2,217.3 768.7,217.2 770.3,217.1 771.8,216.9 773.3,216.8 774.9,216.7 776.4,216.6 777.9,216.5 779.4,216.4 781.0,216.3 782.5,216.2 784.0,216.0 785.6,215.9 787.1,215.8 788.6,215.7 790.2,215.6 791.7,215.5 793.2,215.4 794.8,215.3 796.3,215.2 797.8,215.1 799.4,215.0 800.9,214.9 802.4,214.8 803.9,214.7 805.5,214.6 807.0,214.5 808.5,214.4 810.1,214.3 811.6,214.2 813.1,214.1 814.7,214.0 816.2,213.9 817.7,213.8 819.3,213.7 820.8,213.6 822.3,213.5 823.8,213.4 825.4,213.3 826.9,213.2 828.4,213.1 830.0,213.0 831.5,212.9 833.0,212.8 834.6,212.7 836.1,212.6 837.6,212.5 839.2,212.4 840.7,212.3 842.2,212.3 843.8,212.2 845.3,212.1 846.8,212.0 848.3,211.9 849.9,211.8 851.4,211.7 852.9,211.6 854.5,211.6 856.0,211.5 857.5,211.4 859.1,211.3 860.6,211.2 862.1,211.1 863.7,211.0 865.2,211.0 866.7,210.9 868.2,210.8 869.8,210.7 871.3,210.6 872.8,210.5 874.4,210.5 875.9,210.4 877.4,210.3 879.0,210.2 880.5,210.1 882.0,210.1 883.6,210.0 885.1,209.9 886.6,209.8 888.2,209.8 889.7,209.7 891.2,209.6 892.7,209.5 894.3,209.4 895.8,209.4 897.3,209.3 898.9,209.2 900.4,209.1 901.9,209.1 903.5,209.0 905.0,208.9 906.5,208.8 908.1,208.8 909.6,208.7 911.1,208.6 912.6,208.6 914.2,208.5 915.7,208.4 917.2,208.3 918.8,208.3 920.3,208.2 921.8,208.1 923.4,208.1 924.9,208.0 926.4,207.9 928.0,207.9 929.5,207.8 931.0,207.7 932.6,207.6 934.1,207.6 935.6,207.5 937.1,207.4 938.7,207.4 940.2,207.3 941.7,207.2 943.3,207.2 944.8,207.1 946.3,207.0 947.9,207.0 949.4,206.9 950.9,206.9 952.5,206.8 954.0,206.7 955.5,206.7 957.0,206.6 958.6,206.5 960.1,206.5 961.6,206.4 963.2,206.3 964.7,206.3 966.2,206.2 967.8,206.2 969.3,206.1 970.8,206.0 972.4,206.0 973.9,205.9 975.4,205.9 976.9,205.8 978.5,205.7 980.0,205.7 981.5,205.6 983.1,205.6 984.6,205.5 986.1,205.4 987.7,205.4 989.2,205.3 990.7,205.3 992.3,205.2 993.8,205.1 995.3,205.1 996.9,205.0 998.4,205.0 999.9,204.9 1001.4,204.9 1003.0,204.8 1004.5,204.7 1006.0,204.7 1007.6,204.6 1009.1,204.6 1010.6,204.5 1012.2,204.5 1013.7,204.4 1015.2,204.4 1016.8,204.3 1018.3,204.3 1019.8,204.2 1021.3,204.1 1022.9,204.1 1024.4,204.0 1025.9,204.0 1027.5,203.9 1029.0,203.9 1030.5,203.8 1032.1,203.8 1033.6,203.7 1035.1,203.7 1036.7,203.6 1038.2,203.6 1039.7,203.5 1041.3,203.5 1042.8,203.4 1044.3,203.4 1045.8,203.3 1047.4,203.3 1048.9,203.2 1050.4,203.2 1052.0,203.1 1053.5,203.1 1055.0,203.0 1056.6,203.0 1058.1,202.9 1059.6,202.9 1061.2,202.8 1062.7,202.8 1064.2,202.7 1065.7,202.7 1067.3,202.6 1068.8,202.6 1070.3,202.5 1071.9,202.5 1073.4,202.4 1074.9,202.4 1076.5,202.4 1078.0,202.3 1079.5,202.3 1081.1,202.2 1082.6,202.2 1084.1,202.1 1085.7,202.1 1087.2,202.0 1088.7,202.0 1090.2,201.9 1091.8,201.9 1093.3,201.8 1094.8,201.8 1096.4,201.8 1097.9,201.7 1099.4,201.7 1101.0,201.6 1102.5,201.6 1104.0,201.5 1105.6,201.5 1107.1,201.5 1108.6,201.4 1110.1,201.4 1111.7,201.3 1113.2,201.3 1114.7,201.2 1116.3,201.2 1117.8,201.2 1119.3,201.1 1120.9,201.1 1122.4,201.0 1123.9,201.0 1125.5,200.9 1127.0,200.9 1128.5,200.9 1130.1,200.8 1131.6,200.8 1133.1,200.7 1134.6,200.7 1136.2,200.7 1137.7,200.6 1139.2,200.6 1140.8,200.5 1142.3,200.5 1143.8,200.5 1145.4,200.4 1146.9,200.4 1148.4,200.3 1150.0,200.3 1151.5,200.3 1153.0,200.2 1154.5,200.2 1156.1,200.1 1157.6,200.1 1159.1,200.1 1160.7,200.0 1162.2,200.0 1163.7,199.9 1165.3,199.9 1166.8,199.9 1168.3,199.8 1169.9,199.8 1171.4,199.8 1172.9,199.7 1174.4,199.7 1176.0,199.6 1177.5,199.6 1179.0,199.6 1180.6,199.5 1182.1,199.5 1183.6,199.5 1185.2,199.4 1186.7,199.4 1188.2,199.3 1189.8,199.3 1191.3,199.3 1192.8,199.2 1194.4,199.2 1195.9,199.2 1197.4,199.1 1198.9,199.1 1200.5,199.1 1202.0,199.0 1203.5,199.0 1205.1,199.0 1206.6,198.9 1208.1,198.9 1209.7,198.9 1211.2,198.8 1212.7,198.8 1214.3,198.7 1215.8,198.7 1217.3,198.7 1218.8,198.6 1220.4,198.6 1221.9,198.6 1223.4,198.5 1225.0,198.5 1226.5,198.5 1228.0,198.4 1229.6,198.4 1231.1,198.4 1232.6,198.3 1234.2,198.3 1235.7,198.3 1237.2,198.2 1238.8,198.2 1240.3,198.2 1241.8,198.1 1243.3,198.1 1244.9,198.1 1246.4,198.1 1247.9,198.0 1249.5,198.0 1251.0,198.0 1252.5,197.9 1254.1,197.9 1255.6,197.9 1257.1,197.8 1258.7,197.8 1260.2,197.8 1261.7,197.7 1263.2,197.7 1264.8,197.7 1266.3,197.6 1267.8,197.6 1269.4,197.6 1270.9,197.5 1272.4,197.5 1274.0,197.5 1275.5,197.5 1277.0,197.4 1278.6,197.4 1280.1,197.4 1281.6,197.3 1283.2,197.3 1284.7,197.3 1286.2,197.2 1287.7,197.2 1289.3,197.2 1290.8,197.2 1292.3,197.1 1293.9,197.1 1295.4,197.1 1296.9,197.0 1298.5,197.0 1300.0,197.0 1301.5,197.0 1303.1,196.9 1304.6,196.9 1306.1,196.9 1307.6,196.8 1309.2,196.8 1310.7,196.8 1312.2,196.8 1313.8,196.7 1315.3,196.7 1316.8,196.7 1318.4,196.6 1319.9,196.6 1321.4,196.6 1323.0,196.6 1324.5,196.5 1326.0,196.5 1327.6,196.5 1329.1,196.4 1330.6,196.4 1332.1,196.4 1333.7,196.4 1335.2,196.3 1336.7,196.3 1338.3,196.3 1339.8,196.3 1341.3,196.2 1342.9,196.2 1344.4,196.2 1345.9,196.1 1347.5,196.1 1349.0,196.1 1350.5,196.1 1352.0,196.0 1353.6,196.0 1355.1,196.0 1356.6,196.0 1358.2,195.9 1359.7,195.9 1361.2,195.9 1362.8,195.9 1364.3,195.8 1365.8,195.8 1367.4,195.8 1368.9,195.8 1370.4,195.7 1371.9,195.7 1373.5,195.7 1375.0,195.7 1376.5,195.6 1378.1,195.6 1379.6,195.6 1381.1,195.6 1382.7,195.5 1384.2,195.5 1385.7,195.5 1387.3,195.5 1388.8,195.4 1390.3,195.4 1391.9,195.4 1393.4,195.4 1394.9,195.3 1396.4,195.3 1398.0,195.3 1399.5,195.3 1401.0,195.2 1402.6,195.2 1404.1,195.2 1405.6,195.2 1407.2,195.1 1408.7,195.1 1410.2,195.1 1411.8,195.1 1413.3,195.0 1414.8,195.0 1416.3,195.0 1417.9,195.0 1419.4,194.9 1420.9,194.9 1422.5,194.9 1424.0,194.9 1425.5,194.9 1427.1,194.8 1428.6,194.8 1430.1,194.8 1431.7,194.8 1433.2,194.7 1434.7,194.7 1436.3,194.7 1437.8,194.7 1439.3,194.6 1440.8,194.6 1442.4,194.6 1443.9,194.6 1445.4,194.6 1447.0,194.5 1448.5,194.5 1450.0,194.5 1451.6,194.5 1453.1,194.4 1454.6,194.4 1456.2,194.4 1457.7,194.4 1459.2,194.4 1460.7,194.3 1462.3,194.3 1463.8,194.3 1465.3,194.3 1466.9,194.2 1468.4,194.2 1469.9,194.2 1471.5,194.2 1473.0,194.2 1474.5,194.1 1476.1,194.1 1477.6,194.1 1479.1,194.1 1480.7,194.1 1482.2,194.0 1483.7,194.0 1485.2,194.0 1486.8,194.0 1488.3,193.9 1489.8,193.9 1491.4,193.9 1492.9,193.9 1494.4,193.9 1496.0,193.8 1497.5,193.8 1499.0,193.8 1500.6,193.8 1502.1,193.8 1503.6,193.7 1505.1,193.7 1506.7,193.7 1508.2,193.7 1509.7,193.7 1511.3,193.6 1512.8,193.6 1514.3,193.6 1515.9,193.6 1517.4,193.6 1518.9,193.5 1520.5,193.5 1522.0,193.5 1523.5,193.5 1525.1,193.5 1526.6,193.4 1528.1,193.4 1529.6,193.4 1531.2,193.4 1532.7,193.4 1534.2,193.3 1535.8,193.3 1537.3,193.3 1538.8,193.3 1540.4,193.3 1541.9,193.2 1543.4,193.2 1545.0,193.2 1546.5,193.2 1548.0,193.2 1549.5,193.1 1551.1,193.1 1552.6,193.1 1554.1,193.1 1555.7,193.1 1557.2,193.1 1558.7,193.0 1560.3,193.0 1561.8,193.0 1563.3,193.0 1564.9,193.0 1566.4,192.9 1567.9,192.9 1569.4,192.9 1571.0,192.9 1572.5,192.9 1574.0,192.8 1575.6,192.8 1577.1,192.8 1578.6,192.8 1580.2,192.8 1581.7,192.8 1583.2,192.7 1584.8,192.7 1586.3,192.7 1587.8,192.7 1589.4,192.7 1590.9,192.7 1592.4,192.6 1593.9,192.6 1595.5,192.6 1597.0,192.6 1598.5,192.6 1600.1,192.5 1601.6,192.5 1603.1,192.5 1604.7,192.5 1606.2,192.5 1607.7,192.5 1609.3,192.4 1610.8,192.4 1612.3,192.4 1613.8,192.4 1615.4,192.4 1616.9,192.4 1618.4,192.3 1620.0,192.3 1621.5,192.3 1623.0,192.3 1624.6,192.3 1626.1,192.2 1627.6,192.2 1629.2,192.2 1630.7,192.2 1632.2,192.2 1633.8,192.2 1635.3,192.1 1636.8,192.1 1638.3,192.1 1639.9,192.1 1641.4,192.1 1642.9,192.1 1644.5,192.0 1646.0,192.0 1647.5,192.0 1649.1,192.0 1650.6,192.0 1652.1,192.0 1653.7,191.9 1655.2,191.9 1656.7,191.9 1658.2,191.9 1659.8,191.9 1661.3,191.9 1662.8,191.9 1664.4,191.8 1665.9,191.8 1667.4,191.8 1669.0,191.8 1670.5,191.8 1672.0,191.8 1673.6,191.7 1675.1,191.7 1676.6,191.7 1678.2,191.7 1679.7,191.7 1681.2,191.7 1682.7,191.6 1684.3,191.6 1685.8,191.6 1687.3,191.6 1688.9,191.6 1690.4,191.6 1691.9,191.6 1693.5,191.5 1695.0,191.5 1696.5,191.5 1698.1,191.5 1699.6,191.5 1701.1,191.5 1702.6,191.4 1704.2,191.4 1705.7,191.4 1707.2,191.4 1708.8,191.4 1710.3,191.4 1711.8,191.4 1713.4,191.3 1714.9,191.3 1716.4,191.3 1718.0,191.3 1719.5,191.3 1721.0,191.3 1722.6,191.2 1724.1,191.2 1725.6,191.2 1727.1,191.2 1728.7,191.2 1730.2,191.2 1731.7,191.2 1733.3,191.1 1734.8,191.1 1736.3,191.1 1737.9,191.1 1739.4,191.1 1740.9,191.1 1742.5,191.1 1744.0,191.0 1745.5,191.0 1747.0,191.0 1748.6,191.0 1750.1,191.0 1751.6,191.0 1753.2,191.0 1754.7,190.9 1756.2,190.9 1757.8,190.9 1759.3,190.9 1760.8,190.9 1762.4,190.9 1763.9,190.9 1765.4,190.8 1766.9,190.8 1768.5,190.8 1770.0,190.8 1771.5,190.8 1773.1,190.8 1774.6,190.8 1776.1,190.7 1777.7,190.7 1779.2,190.7 1780.7,190.7 1782.3,190.7 1783.8,190.7 1785.3,190.7 1786.9,190.7 1788.4,190.6 1789.9,190.6 1791.4,190.6 1793.0,190.6 1794.5,190.6 1795.8,190.6" fill="none" stroke="#00f" stroke-width="3.3" stroke-linejoin="round"/>
</g>
<use href="#st" x="340" y="93.5" fill="#000" stroke="#000"/>
<use href="#st" x="642.6" y="93.5" fill="#f00" stroke="#f00"/>
<use href="#st" x="1007.9" y="93.5" fill="#0f0" stroke="#0f0"/>
<line x1="1259.5" y1="93.3" x2="1395.8" y2="93.3" stroke="#f0f" stroke-width="3"/>
<line x1="1542.5" y1="93.3" x2="1678.9" y2="93.3" stroke="#00f" stroke-width="3"/>
<text transform="translate(424.10,113.80) scale(1,1.0)" font-size="60">10</text>
<text transform="translate(489.60,89.80) scale(1,1.015)" font-size="41.5">-5</text>
<text transform="translate(525.00,113.80) scale(1,1.027)" font-size="60">M</text>
<text transform="translate(725.70,113.80) scale(1,1.0)" font-size="60">5x10</text>
<text transform="translate(854.90,89.80) scale(1,1.015)" font-size="41.5">-5</text>
<text transform="translate(891.00,113.80) scale(1,1.027)" font-size="60">M</text>
<text transform="translate(1092.20,113.80) scale(1,1.0)" font-size="60">10</text>
<text transform="translate(1156.90,89.80) scale(1,1.015)" font-size="41.5">-4</text>
<text transform="translate(1194.00,113.80) scale(1,1.027)" font-size="60">M</text>
<text transform="translate(1411.50,113.80) scale(1,1.027)" font-size="60">PFS</text>
<text transform="translate(1695.00,113.80) scale(1,1.027)" font-size="60">SFO</text>
</svg></body></html>
